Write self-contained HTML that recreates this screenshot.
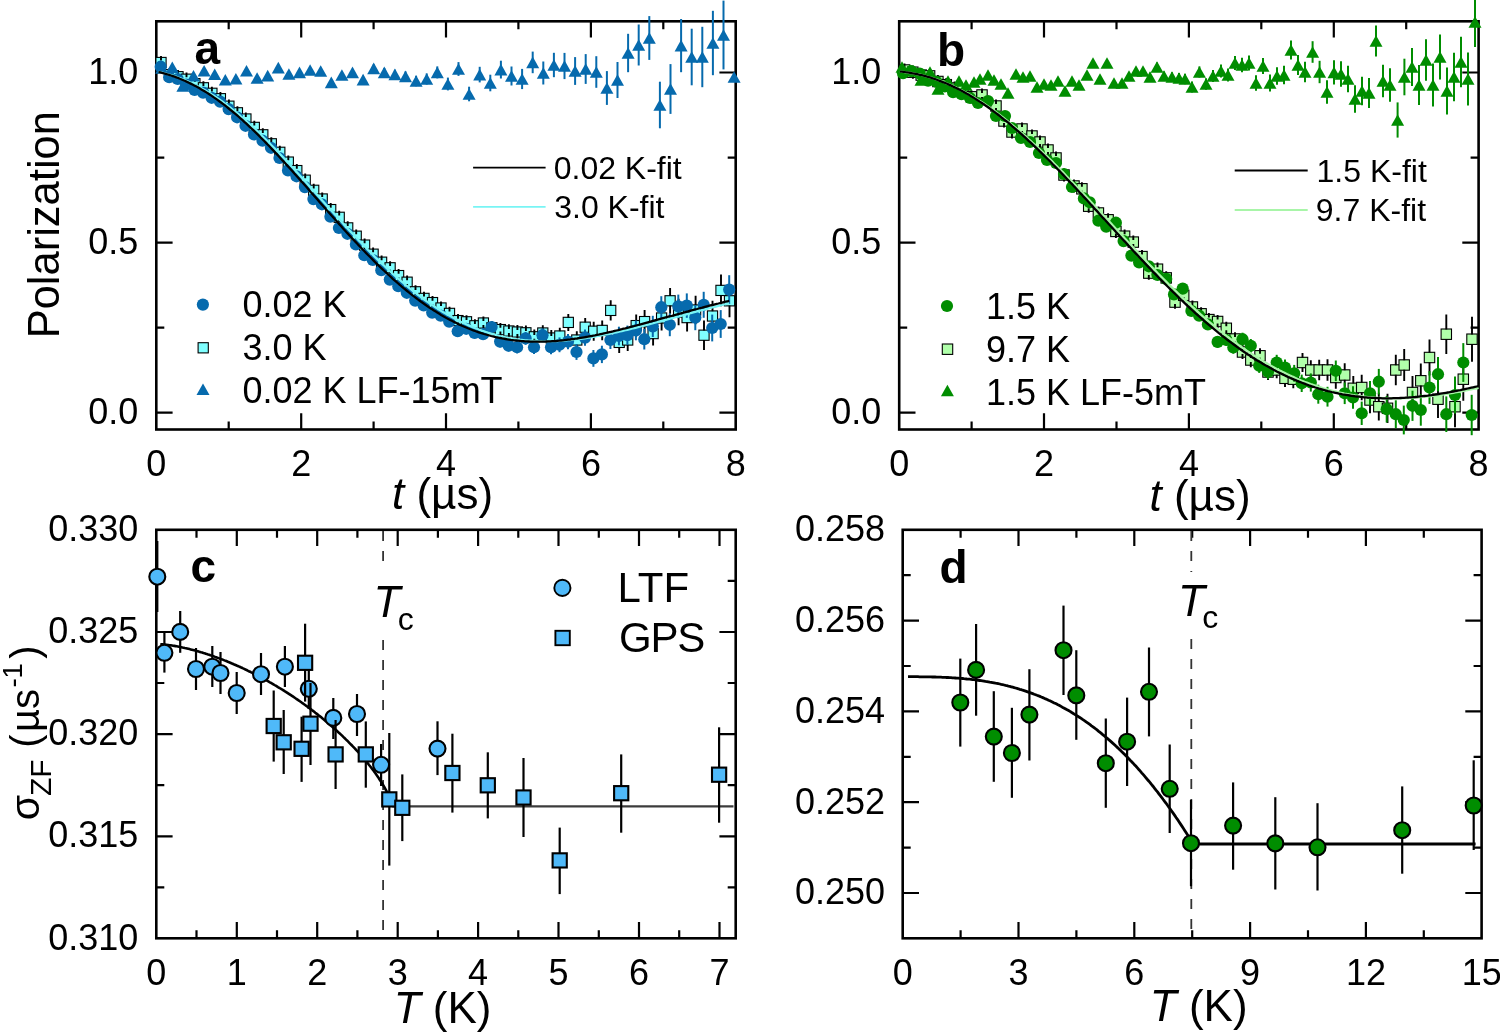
<!DOCTYPE html>
<html><head><meta charset="utf-8"><style>html,body{margin:0;padding:0;background:#fff;}svg{display:block;will-change:transform;}</style></head><body>
<svg width="1500" height="1032" viewBox="0 0 1500 1032" font-family="'Liberation Sans', sans-serif">
<rect width="1500" height="1032" fill="#fff"/>
<rect x="156.3" y="21.3" width="579.4000000000001" height="408.2" fill="none" stroke="#000" stroke-width="2.6"/>
<path d="M301.2 429.5V413.2M301.2 21.3V37.6M446.0 429.5V413.2M446.0 21.3V37.6M590.9 429.5V413.2M590.9 21.3V37.6M228.7 429.5V421.5M228.7 21.3V29.3M373.6 429.5V421.5M373.6 21.3V29.3M518.4 429.5V421.5M518.4 21.3V29.3M663.3 429.5V421.5M663.3 21.3V29.3M156.3 412.7H172.60000000000002M735.7 412.7H719.4000000000001M156.3 242.6H172.60000000000002M735.7 242.6H719.4000000000001M156.3 72.5H172.60000000000002M735.7 72.5H719.4000000000001M156.3 327.6H164.3M735.7 327.6H727.7M156.3 157.6H164.3M735.7 157.6H727.7" stroke="#000" stroke-width="2.2" fill="none"/>
<rect x="899.2" y="21.3" width="579.3999999999999" height="408.2" fill="none" stroke="#000" stroke-width="2.6"/>
<path d="M1044.0 429.5V413.2M1044.0 21.3V37.6M1188.9 429.5V413.2M1188.9 21.3V37.6M1333.8 429.5V413.2M1333.8 21.3V37.6M971.6 429.5V421.5M971.6 21.3V29.3M1116.5 429.5V421.5M1116.5 21.3V29.3M1261.3 429.5V421.5M1261.3 21.3V29.3M1406.2 429.5V421.5M1406.2 21.3V29.3M899.2 412.7H915.5M1478.6 412.7H1462.3M899.2 242.6H915.5M1478.6 242.6H1462.3M899.2 72.5H915.5M1478.6 72.5H1462.3M899.2 327.6H907.2M1478.6 327.6H1470.6M899.2 157.6H907.2M1478.6 157.6H1470.6" stroke="#000" stroke-width="2.2" fill="none"/>
<rect x="156.3" y="529.8" width="579.4000000000001" height="408.5" fill="none" stroke="#000" stroke-width="2.6"/>
<path d="M236.8 938.3V922.0M236.8 529.8V546.0999999999999M317.2 938.3V922.0M317.2 529.8V546.0999999999999M397.7 938.3V922.0M397.7 529.8V546.0999999999999M478.1 938.3V922.0M478.1 529.8V546.0999999999999M558.5 938.3V922.0M558.5 529.8V546.0999999999999M639.0 938.3V922.0M639.0 529.8V546.0999999999999M719.5 938.3V922.0M719.5 529.8V546.0999999999999M196.5 938.3V930.3M196.5 529.8V537.8M277.0 938.3V930.3M277.0 529.8V537.8M357.4 938.3V930.3M357.4 529.8V537.8M437.9 938.3V930.3M437.9 529.8V537.8M518.3 938.3V930.3M518.3 529.8V537.8M598.8 938.3V930.3M598.8 529.8V537.8M679.2 938.3V930.3M679.2 529.8V537.8M156.3 836.3H172.60000000000002M735.7 836.3H719.4000000000001M156.3 734.1H172.60000000000002M735.7 734.1H719.4000000000001M156.3 632.0H172.60000000000002M735.7 632.0H719.4000000000001M156.3 887.3H164.3M735.7 887.3H727.7M156.3 785.2H164.3M735.7 785.2H727.7M156.3 683.0H164.3M735.7 683.0H727.7M156.3 580.9H164.3M735.7 580.9H727.7" stroke="#000" stroke-width="2.2" fill="none"/>
<rect x="902.7" y="529.8" width="578.8999999999999" height="408.5" fill="none" stroke="#000" stroke-width="2.6"/>
<path d="M1018.5 938.3V922.0M1018.5 529.8V546.0999999999999M1134.3 938.3V922.0M1134.3 529.8V546.0999999999999M1250.1 938.3V922.0M1250.1 529.8V546.0999999999999M1365.9 938.3V922.0M1365.9 529.8V546.0999999999999M960.6 938.3V930.3M960.6 529.8V537.8M1076.4 938.3V930.3M1076.4 529.8V537.8M1192.2 938.3V930.3M1192.2 529.8V537.8M1308.0 938.3V930.3M1308.0 529.8V537.8M1423.8 938.3V930.3M1423.8 529.8V537.8M902.7 893.0H919.0M1481.6 893.0H1465.3M902.7 802.2H919.0M1481.6 802.2H1465.3M902.7 711.4H919.0M1481.6 711.4H1465.3M902.7 620.6H919.0M1481.6 620.6H1465.3M902.7 847.6H910.7M1481.6 847.6H1473.6M902.7 756.8H910.7M1481.6 756.8H1473.6M902.7 666.0H910.7M1481.6 666.0H1473.6M902.7 575.2H910.7M1481.6 575.2H1473.6" stroke="#000" stroke-width="2.2" fill="none"/>
<rect x="155.9" y="57.4" width="10.2" height="10.2" fill="#80ffff" stroke="#000" stroke-width="1.1"/>
<path d="M161.0 55.9V60.6M161.0 64.4V69.1" stroke="#000" stroke-width="1.9"/>
<rect x="164.4" y="69.6" width="10.2" height="10.2" fill="#80ffff" stroke="#000" stroke-width="1.1"/>
<path d="M169.5 68.1V72.8M169.5 76.6V81.3" stroke="#000" stroke-width="1.9"/>
<rect x="172.9" y="71.6" width="10.2" height="10.2" fill="#80ffff" stroke="#000" stroke-width="1.1"/>
<path d="M178.0 70.1V74.8M178.0 78.6V83.3" stroke="#000" stroke-width="1.9"/>
<rect x="181.4" y="74.1" width="10.2" height="10.2" fill="#80ffff" stroke="#000" stroke-width="1.1"/>
<path d="M186.5 72.6V77.3M186.5 81.1V85.8" stroke="#000" stroke-width="1.9"/>
<rect x="189.8" y="78.6" width="10.2" height="10.2" fill="#80ffff" stroke="#000" stroke-width="1.1"/>
<path d="M194.9 77.1V81.8M194.9 85.6V90.3" stroke="#000" stroke-width="1.9"/>
<rect x="198.3" y="82.7" width="10.2" height="10.2" fill="#80ffff" stroke="#000" stroke-width="1.1"/>
<path d="M203.4 81.2V85.9M203.4 89.7V94.4" stroke="#000" stroke-width="1.9"/>
<rect x="206.8" y="88.2" width="10.2" height="10.2" fill="#80ffff" stroke="#000" stroke-width="1.1"/>
<path d="M211.9 86.7V91.4M211.9 95.2V99.9" stroke="#000" stroke-width="1.9"/>
<rect x="215.3" y="93.6" width="10.2" height="10.2" fill="#80ffff" stroke="#000" stroke-width="1.1"/>
<path d="M220.4 92.1V96.8M220.4 100.6V105.3" stroke="#000" stroke-width="1.9"/>
<rect x="223.8" y="101.1" width="10.2" height="10.2" fill="#80ffff" stroke="#000" stroke-width="1.1"/>
<path d="M228.9 99.6V104.3M228.9 108.1V112.8" stroke="#000" stroke-width="1.9"/>
<rect x="232.3" y="107.7" width="10.2" height="10.2" fill="#80ffff" stroke="#000" stroke-width="1.1"/>
<path d="M237.4 106.2V110.9M237.4 114.7V119.4" stroke="#000" stroke-width="1.9"/>
<rect x="240.8" y="113.9" width="10.2" height="10.2" fill="#80ffff" stroke="#000" stroke-width="1.1"/>
<path d="M245.8 112.4V117.1M245.8 120.9V125.6" stroke="#000" stroke-width="1.9"/>
<rect x="249.2" y="122.3" width="10.2" height="10.2" fill="#80ffff" stroke="#000" stroke-width="1.1"/>
<path d="M254.3 120.8V125.5M254.3 129.3V134.0" stroke="#000" stroke-width="1.9"/>
<rect x="257.7" y="129.7" width="10.2" height="10.2" fill="#80ffff" stroke="#000" stroke-width="1.1"/>
<path d="M262.8 128.2V132.9M262.8 136.7V141.4" stroke="#000" stroke-width="1.9"/>
<rect x="266.2" y="138.7" width="10.2" height="10.2" fill="#80ffff" stroke="#000" stroke-width="1.1"/>
<path d="M271.3 137.2V141.9M271.3 145.7V150.4" stroke="#000" stroke-width="1.9"/>
<rect x="274.7" y="147.2" width="10.2" height="10.2" fill="#80ffff" stroke="#000" stroke-width="1.1"/>
<path d="M279.8 145.7V150.4M279.8 154.2V158.9" stroke="#000" stroke-width="1.9"/>
<rect x="283.2" y="157.0" width="10.2" height="10.2" fill="#80ffff" stroke="#000" stroke-width="1.1"/>
<path d="M288.3 155.5V160.2M288.3 164.0V168.7" stroke="#000" stroke-width="1.9"/>
<rect x="291.7" y="165.5" width="10.2" height="10.2" fill="#80ffff" stroke="#000" stroke-width="1.1"/>
<path d="M296.8 164.0V168.7M296.8 172.5V177.2" stroke="#000" stroke-width="1.9"/>
<rect x="300.1" y="175.1" width="10.2" height="10.2" fill="#80ffff" stroke="#000" stroke-width="1.1"/>
<path d="M305.2 173.6V178.3M305.2 182.1V186.8" stroke="#000" stroke-width="1.9"/>
<rect x="308.6" y="185.2" width="10.2" height="10.2" fill="#80ffff" stroke="#000" stroke-width="1.1"/>
<path d="M313.7 183.7V188.4M313.7 192.2V196.9" stroke="#000" stroke-width="1.9"/>
<rect x="317.1" y="193.9" width="10.2" height="10.2" fill="#80ffff" stroke="#000" stroke-width="1.1"/>
<path d="M322.2 192.4V197.1M322.2 200.9V205.6" stroke="#000" stroke-width="1.9"/>
<rect x="325.6" y="204.5" width="10.2" height="10.2" fill="#80ffff" stroke="#000" stroke-width="1.1"/>
<path d="M330.7 203.0V207.7M330.7 211.5V216.2" stroke="#000" stroke-width="1.9"/>
<rect x="334.1" y="212.2" width="10.2" height="10.2" fill="#80ffff" stroke="#000" stroke-width="1.1"/>
<path d="M339.2 210.7V215.4M339.2 219.2V223.9" stroke="#000" stroke-width="1.9"/>
<rect x="342.6" y="222.8" width="10.2" height="10.2" fill="#80ffff" stroke="#000" stroke-width="1.1"/>
<path d="M347.7 221.3V226.0M347.7 229.8V234.5" stroke="#000" stroke-width="1.9"/>
<rect x="351.1" y="231.1" width="10.2" height="10.2" fill="#80ffff" stroke="#000" stroke-width="1.1"/>
<path d="M356.2 229.6V234.3M356.2 238.1V242.8" stroke="#000" stroke-width="1.9"/>
<rect x="359.5" y="240.0" width="10.2" height="10.2" fill="#80ffff" stroke="#000" stroke-width="1.1"/>
<path d="M364.6 238.5V243.2M364.6 247.0V251.7" stroke="#000" stroke-width="1.9"/>
<rect x="368.0" y="249.1" width="10.2" height="10.2" fill="#80ffff" stroke="#000" stroke-width="1.1"/>
<path d="M373.1 247.6V252.3M373.1 256.1V260.8" stroke="#000" stroke-width="1.9"/>
<rect x="376.5" y="257.1" width="10.2" height="10.2" fill="#80ffff" stroke="#000" stroke-width="1.1"/>
<path d="M381.6 255.6V260.3M381.6 264.1V268.8" stroke="#000" stroke-width="1.9"/>
<rect x="385.0" y="262.7" width="10.2" height="10.2" fill="#80ffff" stroke="#000" stroke-width="1.1"/>
<path d="M390.1 261.2V265.9M390.1 269.7V274.4" stroke="#000" stroke-width="1.9"/>
<rect x="393.5" y="270.5" width="10.2" height="10.2" fill="#80ffff" stroke="#000" stroke-width="1.1"/>
<path d="M398.6 269.0V273.7M398.6 277.5V282.2" stroke="#000" stroke-width="1.9"/>
<rect x="402.0" y="277.1" width="10.2" height="10.2" fill="#80ffff" stroke="#000" stroke-width="1.1"/>
<path d="M407.1 275.6V280.3M407.1 284.1V288.8" stroke="#000" stroke-width="1.9"/>
<rect x="410.4" y="286.7" width="10.2" height="10.2" fill="#80ffff" stroke="#000" stroke-width="1.1"/>
<path d="M415.5 285.2V289.9M415.5 293.7V298.4" stroke="#000" stroke-width="1.9"/>
<rect x="418.9" y="293.3" width="10.2" height="10.2" fill="#80ffff" stroke="#000" stroke-width="1.1"/>
<path d="M424.0 291.8V296.5M424.0 300.3V305.0" stroke="#000" stroke-width="1.9"/>
<rect x="427.4" y="297.5" width="10.2" height="10.2" fill="#80ffff" stroke="#000" stroke-width="1.1"/>
<path d="M432.5 296.0V300.7M432.5 304.5V309.2" stroke="#000" stroke-width="1.9"/>
<rect x="435.9" y="302.9" width="10.2" height="10.2" fill="#80ffff" stroke="#000" stroke-width="1.1"/>
<path d="M441.0 301.4V306.1M441.0 309.9V314.6" stroke="#000" stroke-width="1.9"/>
<rect x="444.4" y="308.3" width="10.2" height="10.2" fill="#80ffff" stroke="#000" stroke-width="1.1"/>
<path d="M449.5 306.8V311.5M449.5 315.3V320.0" stroke="#000" stroke-width="1.9"/>
<rect x="452.9" y="315.5" width="10.2" height="10.2" fill="#80ffff" stroke="#000" stroke-width="1.1"/>
<path d="M458.0 314.0V318.7M458.0 322.5V327.2" stroke="#000" stroke-width="1.9"/>
<rect x="461.4" y="316.7" width="10.2" height="10.2" fill="#80ffff" stroke="#000" stroke-width="1.1"/>
<path d="M466.5 315.2V319.9M466.5 323.7V328.4" stroke="#000" stroke-width="1.9"/>
<rect x="469.8" y="320.7" width="10.2" height="10.2" fill="#80ffff" stroke="#000" stroke-width="1.1"/>
<path d="M474.9 319.2V323.9M474.9 327.7V332.4" stroke="#000" stroke-width="1.9"/>
<rect x="478.3" y="317.9" width="10.2" height="10.2" fill="#80ffff" stroke="#000" stroke-width="1.1"/>
<path d="M483.4 316.4V321.1M483.4 324.9V329.6" stroke="#000" stroke-width="1.9"/>
<rect x="486.8" y="322.7" width="10.2" height="10.2" fill="#80ffff" stroke="#000" stroke-width="1.1"/>
<path d="M491.9 321.2V325.9M491.9 329.7V334.4" stroke="#000" stroke-width="1.9"/>
<rect x="495.3" y="324.5" width="10.2" height="10.2" fill="#80ffff" stroke="#000" stroke-width="1.1"/>
<path d="M500.4 323.0V327.7M500.4 331.5V336.2" stroke="#000" stroke-width="1.9"/>
<rect x="503.8" y="325.9" width="10.2" height="10.2" fill="#80ffff" stroke="#000" stroke-width="1.1"/>
<path d="M508.9 324.3V329.1M508.9 332.9V337.7" stroke="#000" stroke-width="1.9"/>
<rect x="512.3" y="326.9" width="10.2" height="10.2" fill="#80ffff" stroke="#000" stroke-width="1.1"/>
<path d="M517.4 325.1V330.1M517.4 333.9V338.9" stroke="#000" stroke-width="1.9"/>
<rect x="520.8" y="327.7" width="10.2" height="10.2" fill="#80ffff" stroke="#000" stroke-width="1.1"/>
<path d="M525.9 325.6V330.9M525.9 334.7V340.0" stroke="#000" stroke-width="1.9"/>
<rect x="529.2" y="331.7" width="10.2" height="10.2" fill="#80ffff" stroke="#000" stroke-width="1.1"/>
<path d="M534.3 329.4V334.9M534.3 338.7V344.2" stroke="#000" stroke-width="1.9"/>
<rect x="537.7" y="327.9" width="10.2" height="10.2" fill="#80ffff" stroke="#000" stroke-width="1.1"/>
<path d="M542.8 325.3V331.1M542.8 334.9V340.7" stroke="#000" stroke-width="1.9"/>
<rect x="546.2" y="332.9" width="10.2" height="10.2" fill="#80ffff" stroke="#000" stroke-width="1.1"/>
<path d="M551.3 330.0V336.1M551.3 339.9V346.0" stroke="#000" stroke-width="1.9"/>
<rect x="554.7" y="330.9" width="10.2" height="10.2" fill="#80ffff" stroke="#000" stroke-width="1.1"/>
<path d="M559.8 327.8V331.3M559.8 340.7V344.2" stroke="#000" stroke-width="1.9"/>
<rect x="563.2" y="317.3" width="10.2" height="10.2" fill="#80ffff" stroke="#000" stroke-width="1.1"/>
<path d="M568.3 313.9V317.7M568.3 327.1V330.9" stroke="#000" stroke-width="1.9"/>
<rect x="571.7" y="334.9" width="10.2" height="10.2" fill="#80ffff" stroke="#000" stroke-width="1.1"/>
<path d="M576.8 331.2V335.3M576.8 344.7V348.8" stroke="#000" stroke-width="1.9"/>
<rect x="580.1" y="322.1" width="10.2" height="10.2" fill="#80ffff" stroke="#000" stroke-width="1.1"/>
<path d="M585.2 318.1V322.5M585.2 331.9V336.3" stroke="#000" stroke-width="1.9"/>
<rect x="588.6" y="326.1" width="10.2" height="10.2" fill="#80ffff" stroke="#000" stroke-width="1.1"/>
<path d="M593.7 321.7V326.5M593.7 335.9V340.7" stroke="#000" stroke-width="1.9"/>
<rect x="597.1" y="325.3" width="10.2" height="10.2" fill="#80ffff" stroke="#000" stroke-width="1.1"/>
<path d="M602.2 320.6V325.7M602.2 335.1V340.2" stroke="#000" stroke-width="1.9"/>
<rect x="605.6" y="305.3" width="10.2" height="10.2" fill="#80ffff" stroke="#000" stroke-width="1.1"/>
<path d="M610.7 300.3V305.7M610.7 315.1V320.5" stroke="#000" stroke-width="1.9"/>
<rect x="614.1" y="337.3" width="10.2" height="10.2" fill="#80ffff" stroke="#000" stroke-width="1.1"/>
<path d="M619.2 331.9V337.7M619.2 347.1V352.9" stroke="#000" stroke-width="1.9"/>
<rect x="622.6" y="334.9" width="10.2" height="10.2" fill="#80ffff" stroke="#000" stroke-width="1.1"/>
<path d="M627.7 329.1V335.3M627.7 344.7V350.9" stroke="#000" stroke-width="1.9"/>
<rect x="631.1" y="320.5" width="10.2" height="10.2" fill="#80ffff" stroke="#000" stroke-width="1.1"/>
<path d="M636.2 314.4V320.9M636.2 330.3V336.8" stroke="#000" stroke-width="1.9"/>
<rect x="639.5" y="316.5" width="10.2" height="10.2" fill="#80ffff" stroke="#000" stroke-width="1.1"/>
<path d="M644.6 310.0V316.9M644.6 326.3V333.2" stroke="#000" stroke-width="1.9"/>
<rect x="648.0" y="328.5" width="10.2" height="10.2" fill="#80ffff" stroke="#000" stroke-width="1.1"/>
<path d="M653.1 321.6V328.9M653.1 338.3V345.6" stroke="#000" stroke-width="1.9"/>
<rect x="656.5" y="312.9" width="10.2" height="10.2" fill="#80ffff" stroke="#000" stroke-width="1.1"/>
<path d="M661.6 305.5V313.3M661.6 322.7V330.5" stroke="#000" stroke-width="1.9"/>
<rect x="665.0" y="295.7" width="10.2" height="10.2" fill="#80ffff" stroke="#000" stroke-width="1.1"/>
<path d="M670.1 287.9V296.1M670.1 305.5V313.7" stroke="#000" stroke-width="1.9"/>
<rect x="673.5" y="306.9" width="10.2" height="10.2" fill="#80ffff" stroke="#000" stroke-width="1.1"/>
<path d="M678.6 298.7V307.3M678.6 316.7V325.3" stroke="#000" stroke-width="1.9"/>
<rect x="682.0" y="312.5" width="10.2" height="10.2" fill="#80ffff" stroke="#000" stroke-width="1.1"/>
<path d="M687.1 303.8V312.9M687.1 322.3V331.4" stroke="#000" stroke-width="1.9"/>
<rect x="690.5" y="304.9" width="10.2" height="10.2" fill="#80ffff" stroke="#000" stroke-width="1.1"/>
<path d="M695.6 295.7V305.3M695.6 314.7V324.3" stroke="#000" stroke-width="1.9"/>
<rect x="698.9" y="330.1" width="10.2" height="10.2" fill="#80ffff" stroke="#000" stroke-width="1.1"/>
<path d="M704.0 320.4V330.5M704.0 339.9V350.0" stroke="#000" stroke-width="1.9"/>
<rect x="707.4" y="310.9" width="10.2" height="10.2" fill="#80ffff" stroke="#000" stroke-width="1.1"/>
<path d="M712.5 300.7V311.3M712.5 320.7V331.3" stroke="#000" stroke-width="1.9"/>
<rect x="715.9" y="285.3" width="10.2" height="10.2" fill="#80ffff" stroke="#000" stroke-width="1.1"/>
<path d="M721.0 274.5V285.7M721.0 295.1V306.3" stroke="#000" stroke-width="1.9"/>
<rect x="724.4" y="295.7" width="10.2" height="10.2" fill="#80ffff" stroke="#000" stroke-width="1.1"/>
<path d="M729.5 284.4V296.1M729.5 305.5V317.2" stroke="#000" stroke-width="1.9"/>
<path d="M160.7 65.2V68.2" stroke="#066aad" stroke-width="2"/>
<path d="M169.2 75.6V78.8" stroke="#066aad" stroke-width="2"/>
<path d="M177.7 77.4V80.7" stroke="#066aad" stroke-width="2"/>
<path d="M186.2 82.9V86.2" stroke="#066aad" stroke-width="2"/>
<path d="M194.6 88.2V91.7" stroke="#066aad" stroke-width="2"/>
<path d="M203.1 90.8V94.4" stroke="#066aad" stroke-width="2"/>
<path d="M211.6 95.9V99.6" stroke="#066aad" stroke-width="2"/>
<path d="M220.1 99.7V103.5" stroke="#066aad" stroke-width="2"/>
<path d="M228.6 107.1V111.1" stroke="#066aad" stroke-width="2"/>
<path d="M237.1 115.3V119.4" stroke="#066aad" stroke-width="2"/>
<path d="M245.5 123.7V127.9" stroke="#066aad" stroke-width="2"/>
<path d="M254.0 132.2V136.6" stroke="#066aad" stroke-width="2"/>
<path d="M262.5 138.4V143.0" stroke="#066aad" stroke-width="2"/>
<path d="M271.0 145.5V150.2" stroke="#066aad" stroke-width="2"/>
<path d="M279.5 155.5V160.4" stroke="#066aad" stroke-width="2"/>
<path d="M288.0 167.8V172.9" stroke="#066aad" stroke-width="2"/>
<path d="M296.5 173.7V178.9" stroke="#066aad" stroke-width="2"/>
<path d="M304.9 184.4V189.8" stroke="#066aad" stroke-width="2"/>
<path d="M313.4 196.4V201.9" stroke="#066aad" stroke-width="2"/>
<path d="M321.9 201.4V207.1" stroke="#066aad" stroke-width="2"/>
<path d="M330.4 213.8V219.7" stroke="#066aad" stroke-width="2"/>
<path d="M338.9 224.9V231.1" stroke="#066aad" stroke-width="2"/>
<path d="M347.4 230.6V236.9" stroke="#066aad" stroke-width="2"/>
<path d="M355.9 241.2V247.8" stroke="#066aad" stroke-width="2"/>
<path d="M364.3 251.8V258.6" stroke="#066aad" stroke-width="2"/>
<path d="M372.8 256.4V263.5" stroke="#066aad" stroke-width="2"/>
<path d="M381.3 266.6V273.8" stroke="#066aad" stroke-width="2"/>
<path d="M389.8 275.8V283.4" stroke="#066aad" stroke-width="2"/>
<path d="M398.3 282.3V290.1" stroke="#066aad" stroke-width="2"/>
<path d="M406.8 288.8V296.8" stroke="#066aad" stroke-width="2"/>
<path d="M415.2 296.4V304.8" stroke="#066aad" stroke-width="2"/>
<path d="M423.7 301.1V309.7" stroke="#066aad" stroke-width="2"/>
<path d="M432.2 308.1V317.1" stroke="#066aad" stroke-width="2"/>
<path d="M440.7 311.0V320.2" stroke="#066aad" stroke-width="2"/>
<path d="M449.2 316.8V326.4" stroke="#066aad" stroke-width="2"/>
<path d="M457.7 326.3V336.1" stroke="#066aad" stroke-width="2"/>
<path d="M466.2 323.7V333.9" stroke="#066aad" stroke-width="2"/>
<path d="M474.6 327.7V338.3" stroke="#066aad" stroke-width="2"/>
<path d="M483.1 328.8V339.6" stroke="#066aad" stroke-width="2"/>
<path d="M491.6 321.4V332.6" stroke="#066aad" stroke-width="2"/>
<path d="M500.1 335.8V347.4" stroke="#066aad" stroke-width="2"/>
<path d="M508.6 339.6V351.6" stroke="#066aad" stroke-width="2"/>
<path d="M517.1 341.0V353.4" stroke="#066aad" stroke-width="2"/>
<path d="M525.6 332.0V344.8" stroke="#066aad" stroke-width="2"/>
<path d="M534.0 340.5V353.9" stroke="#066aad" stroke-width="2"/>
<path d="M542.5 328.3V342.1" stroke="#066aad" stroke-width="2"/>
<path d="M551.0 340.1V354.3" stroke="#066aad" stroke-width="2"/>
<path d="M559.5 337.4V352.2" stroke="#066aad" stroke-width="2"/>
<path d="M568.0 334.0V349.2" stroke="#066aad" stroke-width="2"/>
<path d="M576.5 344.1V359.9" stroke="#066aad" stroke-width="2"/>
<path d="M585.0 329.5V345.7" stroke="#066aad" stroke-width="2"/>
<path d="M593.4 350.0V366.8" stroke="#066aad" stroke-width="2"/>
<path d="M601.9 345.7V363.1" stroke="#066aad" stroke-width="2"/>
<path d="M610.4 331.0V349.0" stroke="#066aad" stroke-width="2"/>
<path d="M618.9 326.7V345.3" stroke="#066aad" stroke-width="2"/>
<path d="M627.4 325.6V344.8" stroke="#066aad" stroke-width="2"/>
<path d="M635.9 320.5V340.3" stroke="#066aad" stroke-width="2"/>
<path d="M644.3 328.9V349.5" stroke="#066aad" stroke-width="2"/>
<path d="M652.8 315.8V337.0" stroke="#066aad" stroke-width="2"/>
<path d="M661.3 296.2V318.2" stroke="#066aad" stroke-width="2"/>
<path d="M669.8 313.4V336.2" stroke="#066aad" stroke-width="2"/>
<path d="M678.3 294.6V318.2" stroke="#066aad" stroke-width="2"/>
<path d="M686.8 293.4V317.8" stroke="#066aad" stroke-width="2"/>
<path d="M695.3 305.0V330.2" stroke="#066aad" stroke-width="2"/>
<path d="M703.7 291.8V317.8" stroke="#066aad" stroke-width="2"/>
<path d="M712.2 314.6V341.4" stroke="#066aad" stroke-width="2"/>
<path d="M720.7 310.1V337.9" stroke="#066aad" stroke-width="2"/>
<path d="M729.2 275.2V304.0" stroke="#066aad" stroke-width="2"/>
<circle cx="160.7" cy="66.7" r="6.1" fill="#066aad"/>
<circle cx="169.2" cy="77.2" r="6.1" fill="#066aad"/>
<circle cx="177.7" cy="79.0" r="6.1" fill="#066aad"/>
<circle cx="186.2" cy="84.5" r="6.1" fill="#066aad"/>
<circle cx="194.6" cy="90.0" r="6.1" fill="#066aad"/>
<circle cx="203.1" cy="92.6" r="6.1" fill="#066aad"/>
<circle cx="211.6" cy="97.8" r="6.1" fill="#066aad"/>
<circle cx="220.1" cy="101.6" r="6.1" fill="#066aad"/>
<circle cx="228.6" cy="109.1" r="6.1" fill="#066aad"/>
<circle cx="237.1" cy="117.3" r="6.1" fill="#066aad"/>
<circle cx="245.5" cy="125.8" r="6.1" fill="#066aad"/>
<circle cx="254.0" cy="134.4" r="6.1" fill="#066aad"/>
<circle cx="262.5" cy="140.7" r="6.1" fill="#066aad"/>
<circle cx="271.0" cy="147.8" r="6.1" fill="#066aad"/>
<circle cx="279.5" cy="158.0" r="6.1" fill="#066aad"/>
<circle cx="288.0" cy="170.4" r="6.1" fill="#066aad"/>
<circle cx="296.5" cy="176.3" r="6.1" fill="#066aad"/>
<circle cx="304.9" cy="187.1" r="6.1" fill="#066aad"/>
<circle cx="313.4" cy="199.1" r="6.1" fill="#066aad"/>
<circle cx="321.9" cy="204.3" r="6.1" fill="#066aad"/>
<circle cx="330.4" cy="216.7" r="6.1" fill="#066aad"/>
<circle cx="338.9" cy="228.0" r="6.1" fill="#066aad"/>
<circle cx="347.4" cy="233.8" r="6.1" fill="#066aad"/>
<circle cx="355.9" cy="244.5" r="6.1" fill="#066aad"/>
<circle cx="364.3" cy="255.2" r="6.1" fill="#066aad"/>
<circle cx="372.8" cy="260.0" r="6.1" fill="#066aad"/>
<circle cx="381.3" cy="270.2" r="6.1" fill="#066aad"/>
<circle cx="389.8" cy="279.6" r="6.1" fill="#066aad"/>
<circle cx="398.3" cy="286.2" r="6.1" fill="#066aad"/>
<circle cx="406.8" cy="292.8" r="6.1" fill="#066aad"/>
<circle cx="415.2" cy="300.6" r="6.1" fill="#066aad"/>
<circle cx="423.7" cy="305.4" r="6.1" fill="#066aad"/>
<circle cx="432.2" cy="312.6" r="6.1" fill="#066aad"/>
<circle cx="440.7" cy="315.6" r="6.1" fill="#066aad"/>
<circle cx="449.2" cy="321.6" r="6.1" fill="#066aad"/>
<circle cx="457.7" cy="331.2" r="6.1" fill="#066aad"/>
<circle cx="466.2" cy="328.8" r="6.1" fill="#066aad"/>
<circle cx="474.6" cy="333.0" r="6.1" fill="#066aad"/>
<circle cx="483.1" cy="334.2" r="6.1" fill="#066aad"/>
<circle cx="491.6" cy="327.0" r="6.1" fill="#066aad"/>
<circle cx="500.1" cy="341.6" r="6.1" fill="#066aad"/>
<circle cx="508.6" cy="345.6" r="6.1" fill="#066aad"/>
<circle cx="517.1" cy="347.2" r="6.1" fill="#066aad"/>
<circle cx="525.6" cy="338.4" r="6.1" fill="#066aad"/>
<circle cx="534.0" cy="347.2" r="6.1" fill="#066aad"/>
<circle cx="542.5" cy="335.2" r="6.1" fill="#066aad"/>
<circle cx="551.0" cy="347.2" r="6.1" fill="#066aad"/>
<circle cx="559.5" cy="344.8" r="6.1" fill="#066aad"/>
<circle cx="568.0" cy="341.6" r="6.1" fill="#066aad"/>
<circle cx="576.5" cy="352.0" r="6.1" fill="#066aad"/>
<circle cx="585.0" cy="337.6" r="6.1" fill="#066aad"/>
<circle cx="593.4" cy="358.4" r="6.1" fill="#066aad"/>
<circle cx="601.9" cy="354.4" r="6.1" fill="#066aad"/>
<circle cx="610.4" cy="340.0" r="6.1" fill="#066aad"/>
<circle cx="618.9" cy="336.0" r="6.1" fill="#066aad"/>
<circle cx="627.4" cy="335.2" r="6.1" fill="#066aad"/>
<circle cx="635.9" cy="330.4" r="6.1" fill="#066aad"/>
<circle cx="644.3" cy="339.2" r="6.1" fill="#066aad"/>
<circle cx="652.8" cy="326.4" r="6.1" fill="#066aad"/>
<circle cx="661.3" cy="307.2" r="6.1" fill="#066aad"/>
<circle cx="669.8" cy="324.8" r="6.1" fill="#066aad"/>
<circle cx="678.3" cy="306.4" r="6.1" fill="#066aad"/>
<circle cx="686.8" cy="305.6" r="6.1" fill="#066aad"/>
<circle cx="695.3" cy="317.6" r="6.1" fill="#066aad"/>
<circle cx="703.7" cy="304.8" r="6.1" fill="#066aad"/>
<circle cx="712.2" cy="328.0" r="6.1" fill="#066aad"/>
<circle cx="720.7" cy="324.0" r="6.1" fill="#066aad"/>
<circle cx="729.2" cy="289.6" r="6.1" fill="#066aad"/>
<path d="M161.7 66.9V69.1" stroke="#066aad" stroke-width="2"/>
<path d="M172.3 66.1V68.5" stroke="#066aad" stroke-width="2"/>
<path d="M182.9 84.7V87.3" stroke="#066aad" stroke-width="2"/>
<path d="M193.5 74.3V77.1" stroke="#066aad" stroke-width="2"/>
<path d="M204.1 69.2V72.2" stroke="#066aad" stroke-width="2"/>
<path d="M214.7 72.7V75.9" stroke="#066aad" stroke-width="2"/>
<path d="M225.3 78.0V81.4" stroke="#066aad" stroke-width="2"/>
<path d="M235.9 76.9V80.5" stroke="#066aad" stroke-width="2"/>
<path d="M246.5 68.8V72.6" stroke="#066aad" stroke-width="2"/>
<path d="M257.1 76.0V80.0" stroke="#066aad" stroke-width="2"/>
<path d="M267.7 73.5V77.7" stroke="#066aad" stroke-width="2"/>
<path d="M278.3 65.3V69.9" stroke="#066aad" stroke-width="2"/>
<path d="M288.9 71.6V76.4" stroke="#066aad" stroke-width="2"/>
<path d="M299.5 69.8V75.0" stroke="#066aad" stroke-width="2"/>
<path d="M310.1 67.2V72.8" stroke="#066aad" stroke-width="2"/>
<path d="M320.7 68.0V74.0" stroke="#066aad" stroke-width="2"/>
<path d="M331.3 79.2V85.6" stroke="#066aad" stroke-width="2"/>
<path d="M341.9 71.6V78.4" stroke="#066aad" stroke-width="2"/>
<path d="M352.5 68.8V76.0" stroke="#066aad" stroke-width="2"/>
<path d="M363.1 75.8V83.4" stroke="#066aad" stroke-width="2"/>
<path d="M373.7 64.3V72.5" stroke="#066aad" stroke-width="2"/>
<path d="M384.3 68.0V76.8" stroke="#066aad" stroke-width="2"/>
<path d="M394.9 69.7V79.1" stroke="#066aad" stroke-width="2"/>
<path d="M405.5 71.4V81.4" stroke="#066aad" stroke-width="2"/>
<path d="M416.1 75.7V86.3" stroke="#066aad" stroke-width="2"/>
<path d="M426.7 73.4V84.6" stroke="#066aad" stroke-width="2"/>
<path d="M437.3 66.4V78.4" stroke="#066aad" stroke-width="2"/>
<path d="M447.9 77.6V90.4" stroke="#066aad" stroke-width="2"/>
<path d="M458.5 62.1V75.9" stroke="#066aad" stroke-width="2"/>
<path d="M469.1 86.7V101.3" stroke="#066aad" stroke-width="2"/>
<path d="M479.7 66.8V82.4" stroke="#066aad" stroke-width="2"/>
<path d="M490.3 74.7V91.3" stroke="#066aad" stroke-width="2"/>
<path d="M500.9 60.7V78.5" stroke="#066aad" stroke-width="2"/>
<path d="M511.5 66.5V85.5" stroke="#066aad" stroke-width="2"/>
<path d="M522.1 68.9V89.1" stroke="#066aad" stroke-width="2"/>
<path d="M532.7 51.6V73.2" stroke="#066aad" stroke-width="2"/>
<path d="M543.3 61.5V84.5" stroke="#066aad" stroke-width="2"/>
<path d="M553.9 52.8V77.2" stroke="#066aad" stroke-width="2"/>
<path d="M564.5 52.9V79.1" stroke="#066aad" stroke-width="2"/>
<path d="M575.1 57.1V84.9" stroke="#066aad" stroke-width="2"/>
<path d="M585.7 54.1V83.9" stroke="#066aad" stroke-width="2"/>
<path d="M596.3 56.2V87.8" stroke="#066aad" stroke-width="2"/>
<path d="M606.9 71.1V104.9" stroke="#066aad" stroke-width="2"/>
<path d="M617.5 62.0V98.0" stroke="#066aad" stroke-width="2"/>
<path d="M628.1 33.8V72.2" stroke="#066aad" stroke-width="2"/>
<path d="M638.7 24.5V65.5" stroke="#066aad" stroke-width="2"/>
<path d="M649.3 16.1V59.9" stroke="#066aad" stroke-width="2"/>
<path d="M659.9 81.7V128.3" stroke="#066aad" stroke-width="2"/>
<path d="M670.5 64.1V113.9" stroke="#066aad" stroke-width="2"/>
<path d="M681.1 19.0V72.2" stroke="#066aad" stroke-width="2"/>
<path d="M691.7 28.7V85.3" stroke="#066aad" stroke-width="2"/>
<path d="M702.3 26.8V87.2" stroke="#066aad" stroke-width="2"/>
<path d="M712.9 10.8V75.2" stroke="#066aad" stroke-width="2"/>
<path d="M723.5 0.6V69.4" stroke="#066aad" stroke-width="2"/>
<path d="M161.7 62.2L168.2 73.8L155.2 73.8Z" fill="#066aad"/>
<path d="M172.3 61.5L178.8 73.1L165.8 73.1Z" fill="#066aad"/>
<path d="M182.9 80.2L189.4 91.8L176.4 91.8Z" fill="#066aad"/>
<path d="M193.5 69.9L200.0 81.5L187.0 81.5Z" fill="#066aad"/>
<path d="M204.1 64.9L210.6 76.5L197.6 76.5Z" fill="#066aad"/>
<path d="M214.7 68.5L221.2 80.1L208.2 80.1Z" fill="#066aad"/>
<path d="M225.3 73.9L231.8 85.5L218.8 85.5Z" fill="#066aad"/>
<path d="M235.9 72.9L242.4 84.5L229.4 84.5Z" fill="#066aad"/>
<path d="M246.5 64.9L253.0 76.5L240.0 76.5Z" fill="#066aad"/>
<path d="M257.1 72.2L263.6 83.8L250.6 83.8Z" fill="#066aad"/>
<path d="M267.7 69.8L274.2 81.4L261.2 81.4Z" fill="#066aad"/>
<path d="M278.3 61.8L284.8 73.4L271.8 73.4Z" fill="#066aad"/>
<path d="M288.9 68.2L295.4 79.8L282.4 79.8Z" fill="#066aad"/>
<path d="M299.5 66.6L306.0 78.2L293.0 78.2Z" fill="#066aad"/>
<path d="M310.1 64.2L316.6 75.8L303.6 75.8Z" fill="#066aad"/>
<path d="M320.7 65.2L327.2 76.8L314.2 76.8Z" fill="#066aad"/>
<path d="M331.3 76.6L337.8 88.2L324.8 88.2Z" fill="#066aad"/>
<path d="M341.9 69.2L348.4 80.8L335.4 80.8Z" fill="#066aad"/>
<path d="M352.5 66.6L359.0 78.2L346.0 78.2Z" fill="#066aad"/>
<path d="M363.1 73.8L369.6 85.4L356.6 85.4Z" fill="#066aad"/>
<path d="M373.7 62.6L380.2 74.2L367.2 74.2Z" fill="#066aad"/>
<path d="M384.3 66.6L390.8 78.2L377.8 78.2Z" fill="#066aad"/>
<path d="M394.9 68.6L401.4 80.2L388.4 80.2Z" fill="#066aad"/>
<path d="M405.5 70.6L412.0 82.2L399.0 82.2Z" fill="#066aad"/>
<path d="M416.1 75.2L422.6 86.8L409.6 86.8Z" fill="#066aad"/>
<path d="M426.7 73.2L433.2 84.8L420.2 84.8Z" fill="#066aad"/>
<path d="M437.3 66.6L443.8 78.2L430.8 78.2Z" fill="#066aad"/>
<path d="M447.9 78.2L454.4 89.8L441.4 89.8Z" fill="#066aad"/>
<path d="M458.5 63.2L465.0 74.8L452.0 74.8Z" fill="#066aad"/>
<path d="M469.1 88.2L475.6 99.8L462.6 99.8Z" fill="#066aad"/>
<path d="M479.7 68.8L486.2 80.4L473.2 80.4Z" fill="#066aad"/>
<path d="M490.3 77.2L496.8 88.8L483.8 88.8Z" fill="#066aad"/>
<path d="M500.9 63.8L507.4 75.4L494.4 75.4Z" fill="#066aad"/>
<path d="M511.5 70.2L518.0 81.8L505.0 81.8Z" fill="#066aad"/>
<path d="M522.1 73.2L528.6 84.8L515.6 84.8Z" fill="#066aad"/>
<path d="M532.7 56.6L539.2 68.2L526.2 68.2Z" fill="#066aad"/>
<path d="M543.3 67.2L549.8 78.8L536.8 78.8Z" fill="#066aad"/>
<path d="M553.9 59.2L560.4 70.8L547.4 70.8Z" fill="#066aad"/>
<path d="M564.5 60.2L571.0 71.8L558.0 71.8Z" fill="#066aad"/>
<path d="M575.1 65.2L581.6 76.8L568.6 76.8Z" fill="#066aad"/>
<path d="M585.7 63.2L592.2 74.8L579.2 74.8Z" fill="#066aad"/>
<path d="M596.3 66.2L602.8 77.8L589.8 77.8Z" fill="#066aad"/>
<path d="M606.9 82.2L613.4 93.8L600.4 93.8Z" fill="#066aad"/>
<path d="M617.5 74.2L624.0 85.8L611.0 85.8Z" fill="#066aad"/>
<path d="M628.1 47.2L634.6 58.8L621.6 58.8Z" fill="#066aad"/>
<path d="M638.7 39.2L645.2 50.8L632.2 50.8Z" fill="#066aad"/>
<path d="M649.3 32.2L655.8 43.8L642.8 43.8Z" fill="#066aad"/>
<path d="M659.9 99.2L666.4 110.8L653.4 110.8Z" fill="#066aad"/>
<path d="M670.5 83.2L677.0 94.8L664.0 94.8Z" fill="#066aad"/>
<path d="M681.1 39.8L687.6 51.4L674.6 51.4Z" fill="#066aad"/>
<path d="M691.7 51.2L698.2 62.8L685.2 62.8Z" fill="#066aad"/>
<path d="M702.3 51.2L708.8 62.8L695.8 62.8Z" fill="#066aad"/>
<path d="M712.9 37.2L719.4 48.8L706.4 48.8Z" fill="#066aad"/>
<path d="M723.5 29.2L730.0 40.8L717.0 40.8Z" fill="#066aad"/>
<path d="M734.1 71.2L740.6 82.8L727.6 82.8Z" fill="#066aad"/>
<polyline points="158.5,71.9 160.3,72.3 162.1,72.7 163.8,73.1 165.6,73.6 167.4,74.1 169.2,74.6 171.0,75.1 172.8,75.6 174.6,76.2 176.4,76.8 178.2,77.5 179.9,78.1 181.7,78.8 183.5,79.5 185.3,80.3 187.1,81.1 188.9,81.9 190.7,82.7 192.5,83.5 194.3,84.4 196.0,85.3 197.8,86.2 199.6,87.2 201.4,88.2 203.2,89.2 205.0,90.2 206.8,91.3 208.6,92.4 210.4,93.5 212.1,94.7 213.9,95.8 215.7,97.0 217.5,98.2 219.3,99.5 221.1,100.8 222.9,102.0 224.7,103.4 226.5,104.7 228.2,106.1 230.0,107.5 231.8,108.9 233.6,110.3 235.4,111.8 237.2,113.2 239.0,114.7 240.8,116.3 242.6,117.8 244.3,119.4 246.1,120.9 247.9,122.5 249.7,124.2 251.5,125.8 253.3,127.5 255.1,129.1 256.9,130.8 258.7,132.5 260.4,134.3 262.2,136.0 264.0,137.8 265.8,139.5 267.6,141.3 269.4,143.1 271.2,145.0 273.0,146.8 274.8,148.6 276.6,150.5 278.3,152.3 280.1,154.2 281.9,156.1 283.7,158.0 285.5,159.9 287.3,161.8 289.1,163.8 290.9,165.7 292.7,167.6 294.4,169.6 296.2,171.6 298.0,173.5 299.8,175.5 301.6,177.5 303.4,179.4 305.2,181.4 307.0,183.4 308.8,185.4 310.5,187.4 312.3,189.4 314.1,191.4 315.9,193.4 317.7,195.4 319.5,197.4 321.3,199.4 323.1,201.4 324.9,203.4 326.6,205.4 328.4,207.4 330.2,209.3 332.0,211.3 333.8,213.3 335.6,215.3 337.4,217.3 339.2,219.2 341.0,221.2 342.7,223.1 344.5,225.1 346.3,227.0 348.1,229.0 349.9,230.9 351.7,232.8 353.5,234.7 355.3,236.6 357.1,238.5 358.8,240.4 360.6,242.3 362.4,244.1 364.2,246.0 366.0,247.8 367.8,249.7 369.6,251.5 371.4,253.3 373.2,255.1 374.9,256.9 376.7,258.6 378.5,260.4 380.3,262.1 382.1,263.8 383.9,265.5 385.7,267.2 387.5,268.9 389.3,270.6 391.1,272.2 392.8,273.8 394.6,275.4 396.4,277.0 398.2,278.6 400.0,280.2 401.8,281.7 403.6,283.2 405.4,284.8 407.2,286.2 408.9,287.7 410.7,289.2 412.5,290.6 414.3,292.0 416.1,293.4 417.9,294.8 419.7,296.1 421.5,297.5 423.3,298.8 425.0,300.1 426.8,301.4 428.6,302.6 430.4,303.9 432.2,305.1 434.0,306.3 435.8,307.5 437.6,308.6 439.4,309.8 441.1,310.9 442.9,312.0 444.7,313.0 446.5,314.1 448.3,315.1 450.1,316.1 451.9,317.1 453.7,318.1 455.5,319.1 457.2,320.0 459.0,320.9 460.8,321.8 462.6,322.6 464.4,323.5 466.2,324.3 468.0,325.1 469.8,325.9 471.6,326.6 473.3,327.4 475.1,328.1 476.9,328.8 478.7,329.5 480.5,330.1 482.3,330.8 484.1,331.4 485.9,332.0 487.7,332.6 489.4,333.1 491.2,333.7 493.0,334.2 494.8,334.7 496.6,335.2 498.4,335.6 500.2,336.1 502.0,336.5 503.8,336.9 505.5,337.3 507.3,337.6 509.1,338.0 510.9,338.3 512.7,338.6 514.5,338.9 516.3,339.2 518.1,339.4 519.9,339.7 521.7,339.9 523.4,340.1 525.2,340.3 527.0,340.4 528.8,340.6 530.6,340.7 532.4,340.9 534.2,341.0 536.0,341.0 537.8,341.1 539.5,341.2 541.3,341.2 543.1,341.3 544.9,341.3 546.7,341.3 548.5,341.2 550.3,341.2 552.1,341.2 553.9,341.1 555.6,341.0 557.4,341.0 559.2,340.9 561.0,340.8 562.8,340.6 564.6,340.5 566.4,340.4 568.2,340.2 570.0,340.0 571.7,339.8 573.5,339.7 575.3,339.5 577.1,339.2 578.9,339.0 580.7,338.8 582.5,338.5 584.3,338.3 586.1,338.0 587.8,337.7 589.6,337.5 591.4,337.2 593.2,336.9 595.0,336.6 596.8,336.2 598.6,335.9 600.4,335.6 602.2,335.2 603.9,334.9 605.7,334.5 607.5,334.2 609.3,333.8 611.1,333.4 612.9,333.0 614.7,332.7 616.5,332.3 618.3,331.9 620.0,331.5 621.8,331.1 623.6,330.6 625.4,330.2 627.2,329.8 629.0,329.4 630.8,328.9 632.6,328.5 634.4,328.1 636.2,327.6 637.9,327.2 639.7,326.7 641.5,326.2 643.3,325.8 645.1,325.3 646.9,324.9 648.7,324.4 650.5,323.9 652.3,323.5 654.0,323.0 655.8,322.5 657.6,322.0 659.4,321.6 661.2,321.1 663.0,320.6 664.8,320.1 666.6,319.6 668.4,319.2 670.1,318.7 671.9,318.2 673.7,317.7 675.5,317.2 677.3,316.7 679.1,316.3 680.9,315.8 682.7,315.3 684.5,314.8 686.2,314.3 688.0,313.8 689.8,313.4 691.6,312.9 693.4,312.4 695.2,311.9 697.0,311.4 698.8,311.0 700.6,310.5 702.3,310.0 704.1,309.6 705.9,309.1 707.7,308.6 709.5,308.2 711.3,307.7 713.1,307.2 714.9,306.8 716.7,306.3 718.4,305.9 720.2,305.4 722.0,305.0 723.8,304.5 725.6,304.1 727.4,303.6 729.2,303.2" fill="none" stroke="#78f4f4" stroke-width="2.3"/>
<polyline points="158.5,72.0 160.3,72.4 162.1,72.9 163.8,73.3 165.6,73.8 167.4,74.4 169.2,74.9 171.0,75.5 172.8,76.1 174.6,76.7 176.4,77.4 178.2,78.0 179.9,78.8 181.7,79.5 183.5,80.3 185.3,81.0 187.1,81.9 188.9,82.7 190.7,83.6 192.5,84.5 194.3,85.4 196.0,86.3 197.8,87.3 199.6,88.3 201.4,89.4 203.2,90.4 205.0,91.5 206.8,92.6 208.6,93.8 210.4,94.9 212.1,96.1 213.9,97.4 215.7,98.6 217.5,99.9 219.3,101.2 221.1,102.5 222.9,103.8 224.7,105.2 226.5,106.6 228.2,108.0 230.0,109.5 231.8,110.9 233.6,112.4 235.4,113.9 237.2,115.4 239.0,117.0 240.8,118.6 242.6,120.2 244.3,121.8 246.1,123.4 247.9,125.1 249.7,126.8 251.5,128.5 253.3,130.2 255.1,131.9 256.9,133.6 258.7,135.4 260.4,137.2 262.2,139.0 264.0,140.8 265.8,142.6 267.6,144.5 269.4,146.3 271.2,148.2 273.0,150.1 274.8,152.0 276.6,153.9 278.3,155.8 280.1,157.7 281.9,159.7 283.7,161.6 285.5,163.6 287.3,165.6 289.1,167.5 290.9,169.5 292.7,171.5 294.4,173.5 296.2,175.5 298.0,177.5 299.8,179.5 301.6,181.6 303.4,183.6 305.2,185.6 307.0,187.6 308.8,189.7 310.5,191.7 312.3,193.7 314.1,195.8 315.9,197.8 317.7,199.8 319.5,201.9 321.3,203.9 323.1,205.9 324.9,208.0 326.6,210.0 328.4,212.0 330.2,214.0 332.0,216.1 333.8,218.1 335.6,220.1 337.4,222.1 339.2,224.1 341.0,226.0 342.7,228.0 344.5,230.0 346.3,232.0 348.1,233.9 349.9,235.9 351.7,237.8 353.5,239.7 355.3,241.6 357.1,243.5 358.8,245.4 360.6,247.3 362.4,249.2 364.2,251.0 366.0,252.9 367.8,254.7 369.6,256.5 371.4,258.3 373.2,260.1 374.9,261.9 376.7,263.7 378.5,265.4 380.3,267.1 382.1,268.8 383.9,270.5 385.7,272.2 387.5,273.9 389.3,275.5 391.1,277.2 392.8,278.8 394.6,280.4 396.4,281.9 398.2,283.5 400.0,285.0 401.8,286.6 403.6,288.1 405.4,289.5 407.2,291.0 408.9,292.4 410.7,293.9 412.5,295.3 414.3,296.7 416.1,298.0 417.9,299.4 419.7,300.7 421.5,302.0 423.3,303.3 425.0,304.5 426.8,305.8 428.6,307.0 430.4,308.2 432.2,309.3 434.0,310.5 435.8,311.6 437.6,312.7 439.4,313.8 441.1,314.9 442.9,315.9 444.7,317.0 446.5,318.0 448.3,318.9 450.1,319.9 451.9,320.8 453.7,321.8 455.5,322.6 457.2,323.5 459.0,324.4 460.8,325.2 462.6,326.0 464.4,326.8 466.2,327.5 468.0,328.3 469.8,329.0 471.6,329.7 473.3,330.4 475.1,331.0 476.9,331.7 478.7,332.3 480.5,332.9 482.3,333.4 484.1,334.0 485.9,334.5 487.7,335.0 489.4,335.5 491.2,336.0 493.0,336.4 494.8,336.9 496.6,337.3 498.4,337.7 500.2,338.0 502.0,338.4 503.8,338.7 505.5,339.0 507.3,339.3 509.1,339.6 510.9,339.9 512.7,340.1 514.5,340.3 516.3,340.5 518.1,340.7 519.9,340.9 521.7,341.1 523.4,341.2 525.2,341.3 527.0,341.4 528.8,341.5 530.6,341.6 532.4,341.6 534.2,341.7 536.0,341.7 537.8,341.7 539.5,341.7 541.3,341.7 543.1,341.6 544.9,341.6 546.7,341.5 548.5,341.4 550.3,341.3 552.1,341.2 553.9,341.1 555.6,341.0 557.4,340.8 559.2,340.7 561.0,340.5 562.8,340.3 564.6,340.1 566.4,339.9 568.2,339.7 570.0,339.5 571.7,339.2 573.5,339.0 575.3,338.7 577.1,338.5 578.9,338.2 580.7,337.9 582.5,337.6 584.3,337.3 586.1,337.0 587.8,336.7 589.6,336.3 591.4,336.0 593.2,335.6 595.0,335.3 596.8,334.9 598.6,334.6 600.4,334.2 602.2,333.8 603.9,333.4 605.7,333.0 607.5,332.6 609.3,332.2 611.1,331.8 612.9,331.4 614.7,330.9 616.5,330.5 618.3,330.1 620.0,329.6 621.8,329.2 623.6,328.7 625.4,328.3 627.2,327.8 629.0,327.4 630.8,326.9 632.6,326.4 634.4,326.0 636.2,325.5 637.9,325.0 639.7,324.6 641.5,324.1 643.3,323.6 645.1,323.1 646.9,322.6 648.7,322.1 650.5,321.7 652.3,321.2 654.0,320.7 655.8,320.2 657.6,319.7 659.4,319.2 661.2,318.7 663.0,318.2 664.8,317.7 666.6,317.2 668.4,316.7 670.1,316.2 671.9,315.8 673.7,315.3 675.5,314.8 677.3,314.3 679.1,313.8 680.9,313.3 682.7,312.8 684.5,312.3 686.2,311.8 688.0,311.4 689.8,310.9 691.6,310.4 693.4,309.9 695.2,309.4 697.0,309.0 698.8,308.5 700.6,308.0 702.3,307.6 704.1,307.1 705.9,306.6 707.7,306.2 709.5,305.7 711.3,305.2 713.1,304.8 714.9,304.3 716.7,303.9 718.4,303.5 720.2,303.0 722.0,302.6 723.8,302.1 725.6,301.7 727.4,301.3 729.2,300.9" fill="none" stroke="#000" stroke-width="2.3"/>
<rect x="899.3" y="64.8" width="10.4" height="10.4" fill="#b0ffaa" stroke="#000" stroke-width="1.1"/>
<path d="M904.5 63.4V68.0M904.5 72.0V76.6" stroke="#000" stroke-width="1.9"/>
<rect x="907.6" y="67.0" width="10.4" height="10.4" fill="#b0ffaa" stroke="#000" stroke-width="1.1"/>
<path d="M912.9 65.6V70.2M912.9 74.2V78.8" stroke="#000" stroke-width="1.9"/>
<rect x="916.0" y="69.9" width="10.4" height="10.4" fill="#b0ffaa" stroke="#000" stroke-width="1.1"/>
<path d="M921.2 68.5V73.1M921.2 77.1V81.7" stroke="#000" stroke-width="1.9"/>
<rect x="924.4" y="70.7" width="10.4" height="10.4" fill="#b0ffaa" stroke="#000" stroke-width="1.1"/>
<path d="M929.6 69.3V73.9M929.6 77.9V82.5" stroke="#000" stroke-width="1.9"/>
<rect x="932.7" y="76.3" width="10.4" height="10.4" fill="#b0ffaa" stroke="#000" stroke-width="1.1"/>
<path d="M937.9 74.9V79.5M937.9 83.5V88.1" stroke="#000" stroke-width="1.9"/>
<rect x="941.1" y="79.5" width="10.4" height="10.4" fill="#b0ffaa" stroke="#000" stroke-width="1.1"/>
<path d="M946.3 78.1V82.7M946.3 86.7V91.3" stroke="#000" stroke-width="1.9"/>
<rect x="949.4" y="82.8" width="10.4" height="10.4" fill="#b0ffaa" stroke="#000" stroke-width="1.1"/>
<path d="M954.6 81.4V86.0M954.6 90.0V94.6" stroke="#000" stroke-width="1.9"/>
<rect x="957.8" y="85.5" width="10.4" height="10.4" fill="#b0ffaa" stroke="#000" stroke-width="1.1"/>
<path d="M963.0 84.1V88.7M963.0 92.7V97.3" stroke="#000" stroke-width="1.9"/>
<rect x="966.1" y="91.6" width="10.4" height="10.4" fill="#b0ffaa" stroke="#000" stroke-width="1.1"/>
<path d="M971.3 90.2V94.8M971.3 98.8V103.4" stroke="#000" stroke-width="1.9"/>
<rect x="976.8" y="89.8" width="10.4" height="10.4" fill="#b0ffaa" stroke="#000" stroke-width="1.1"/>
<path d="M982.0 88.4V93.0M982.0 97.0V101.6" stroke="#000" stroke-width="1.9"/>
<rect x="990.8" y="100.8" width="10.4" height="10.4" fill="#b0ffaa" stroke="#000" stroke-width="1.1"/>
<path d="M996.0 99.4V104.0M996.0 108.0V112.6" stroke="#000" stroke-width="1.9"/>
<rect x="998.8" y="115.8" width="10.4" height="10.4" fill="#b0ffaa" stroke="#000" stroke-width="1.1"/>
<path d="M1004.0 114.4V119.0M1004.0 123.0V127.6" stroke="#000" stroke-width="1.9"/>
<rect x="1006.8" y="126.8" width="10.4" height="10.4" fill="#b0ffaa" stroke="#000" stroke-width="1.1"/>
<path d="M1012.0 125.4V130.0M1012.0 134.0V138.6" stroke="#000" stroke-width="1.9"/>
<rect x="1016.8" y="123.8" width="10.4" height="10.4" fill="#b0ffaa" stroke="#000" stroke-width="1.1"/>
<path d="M1022.0 122.4V127.0M1022.0 131.0V135.6" stroke="#000" stroke-width="1.9"/>
<rect x="1026.8" y="130.8" width="10.4" height="10.4" fill="#b0ffaa" stroke="#000" stroke-width="1.1"/>
<path d="M1032.0 129.4V134.0M1032.0 138.0V142.6" stroke="#000" stroke-width="1.9"/>
<rect x="1034.8" y="136.8" width="10.4" height="10.4" fill="#b0ffaa" stroke="#000" stroke-width="1.1"/>
<path d="M1040.0 135.4V140.0M1040.0 144.0V148.6" stroke="#000" stroke-width="1.9"/>
<rect x="1042.8" y="144.8" width="10.4" height="10.4" fill="#b0ffaa" stroke="#000" stroke-width="1.1"/>
<path d="M1048.0 143.4V148.0M1048.0 152.0V156.6" stroke="#000" stroke-width="1.9"/>
<rect x="1050.8" y="152.8" width="10.4" height="10.4" fill="#b0ffaa" stroke="#000" stroke-width="1.1"/>
<path d="M1056.0 151.4V156.0M1056.0 160.0V164.6" stroke="#000" stroke-width="1.9"/>
<rect x="1058.8" y="169.8" width="10.4" height="10.4" fill="#b0ffaa" stroke="#000" stroke-width="1.1"/>
<path d="M1064.0 168.4V173.0M1064.0 177.0V181.6" stroke="#000" stroke-width="1.9"/>
<rect x="1068.8" y="180.8" width="10.4" height="10.4" fill="#b0ffaa" stroke="#000" stroke-width="1.1"/>
<path d="M1074.0 179.4V184.0M1074.0 188.0V192.6" stroke="#000" stroke-width="1.9"/>
<rect x="1076.7" y="183.6" width="10.4" height="10.4" fill="#b0ffaa" stroke="#000" stroke-width="1.1"/>
<path d="M1081.9 182.2V186.8M1081.9 190.8V195.4" stroke="#000" stroke-width="1.9"/>
<rect x="1083.5" y="201.0" width="10.4" height="10.4" fill="#b0ffaa" stroke="#000" stroke-width="1.1"/>
<path d="M1088.7 199.6V204.2M1088.7 208.2V212.8" stroke="#000" stroke-width="1.9"/>
<rect x="1093.2" y="207.8" width="10.4" height="10.4" fill="#b0ffaa" stroke="#000" stroke-width="1.1"/>
<path d="M1098.4 206.4V211.0M1098.4 215.0V219.6" stroke="#000" stroke-width="1.9"/>
<rect x="1102.9" y="214.6" width="10.4" height="10.4" fill="#b0ffaa" stroke="#000" stroke-width="1.1"/>
<path d="M1108.1 213.2V217.8M1108.1 221.8V226.4" stroke="#000" stroke-width="1.9"/>
<rect x="1110.7" y="226.2" width="10.4" height="10.4" fill="#b0ffaa" stroke="#000" stroke-width="1.1"/>
<path d="M1115.9 224.8V229.4M1115.9 233.4V238.0" stroke="#000" stroke-width="1.9"/>
<rect x="1119.4" y="231.0" width="10.4" height="10.4" fill="#b0ffaa" stroke="#000" stroke-width="1.1"/>
<path d="M1124.6 229.6V234.2M1124.6 238.2V242.8" stroke="#000" stroke-width="1.9"/>
<rect x="1128.1" y="236.9" width="10.4" height="10.4" fill="#b0ffaa" stroke="#000" stroke-width="1.1"/>
<path d="M1133.3 235.5V240.1M1133.3 244.1V248.7" stroke="#000" stroke-width="1.9"/>
<rect x="1136.8" y="251.4" width="10.4" height="10.4" fill="#b0ffaa" stroke="#000" stroke-width="1.1"/>
<path d="M1142.0 250.0V254.6M1142.0 258.6V263.2" stroke="#000" stroke-width="1.9"/>
<rect x="1143.6" y="267.9" width="10.4" height="10.4" fill="#b0ffaa" stroke="#000" stroke-width="1.1"/>
<path d="M1148.8 266.5V271.1M1148.8 275.1V279.7" stroke="#000" stroke-width="1.9"/>
<rect x="1152.3" y="264.0" width="10.4" height="10.4" fill="#b0ffaa" stroke="#000" stroke-width="1.1"/>
<path d="M1157.5 262.6V267.2M1157.5 271.2V275.8" stroke="#000" stroke-width="1.9"/>
<rect x="1161.0" y="272.7" width="10.4" height="10.4" fill="#b0ffaa" stroke="#000" stroke-width="1.1"/>
<path d="M1166.2 271.3V275.9M1166.2 279.9V284.5" stroke="#000" stroke-width="1.9"/>
<rect x="1169.8" y="296.9" width="10.4" height="10.4" fill="#b0ffaa" stroke="#000" stroke-width="1.1"/>
<path d="M1175.0 295.5V300.1M1175.0 304.1V308.7" stroke="#000" stroke-width="1.9"/>
<rect x="1178.5" y="290.1" width="10.4" height="10.4" fill="#b0ffaa" stroke="#000" stroke-width="1.1"/>
<path d="M1183.7 288.7V293.3M1183.7 297.3V301.9" stroke="#000" stroke-width="1.9"/>
<rect x="1187.2" y="301.8" width="10.4" height="10.4" fill="#b0ffaa" stroke="#000" stroke-width="1.1"/>
<path d="M1192.4 300.4V305.0M1192.4 309.0V313.6" stroke="#000" stroke-width="1.9"/>
<rect x="1195.9" y="308.6" width="10.4" height="10.4" fill="#b0ffaa" stroke="#000" stroke-width="1.1"/>
<path d="M1201.1 307.2V311.8M1201.1 315.8V320.4" stroke="#000" stroke-width="1.9"/>
<rect x="1203.7" y="314.4" width="10.4" height="10.4" fill="#b0ffaa" stroke="#000" stroke-width="1.1"/>
<path d="M1208.9 313.0V317.6M1208.9 321.6V326.2" stroke="#000" stroke-width="1.9"/>
<rect x="1212.4" y="316.3" width="10.4" height="10.4" fill="#b0ffaa" stroke="#000" stroke-width="1.1"/>
<path d="M1217.6 314.9V319.5M1217.6 323.5V328.1" stroke="#000" stroke-width="1.9"/>
<rect x="1221.1" y="323.1" width="10.4" height="10.4" fill="#b0ffaa" stroke="#000" stroke-width="1.1"/>
<path d="M1226.3 321.7V326.3M1226.3 330.3V334.9" stroke="#000" stroke-width="1.9"/>
<rect x="1229.8" y="333.8" width="10.4" height="10.4" fill="#b0ffaa" stroke="#000" stroke-width="1.1"/>
<path d="M1235.0 332.3V337.0M1235.0 341.0V345.7" stroke="#000" stroke-width="1.9"/>
<rect x="1237.3" y="346.8" width="10.4" height="10.4" fill="#b0ffaa" stroke="#000" stroke-width="1.1"/>
<path d="M1242.5 345.1V350.0M1242.5 354.0V358.9" stroke="#000" stroke-width="1.9"/>
<rect x="1245.6" y="354.8" width="10.4" height="10.4" fill="#b0ffaa" stroke="#000" stroke-width="1.1"/>
<path d="M1250.8 352.8V358.0M1250.8 362.0V367.2" stroke="#000" stroke-width="1.9"/>
<rect x="1254.8" y="350.6" width="10.4" height="10.4" fill="#b0ffaa" stroke="#000" stroke-width="1.1"/>
<path d="M1260.0 348.2V353.8M1260.0 357.8V363.4" stroke="#000" stroke-width="1.9"/>
<rect x="1262.8" y="366.8" width="10.4" height="10.4" fill="#b0ffaa" stroke="#000" stroke-width="1.1"/>
<path d="M1268.0 364.1V370.0M1268.0 374.0V379.9" stroke="#000" stroke-width="1.9"/>
<rect x="1271.5" y="364.8" width="10.4" height="10.4" fill="#b0ffaa" stroke="#000" stroke-width="1.1"/>
<path d="M1276.7 361.7V365.2M1276.7 374.8V378.3" stroke="#000" stroke-width="1.9"/>
<rect x="1279.8" y="373.1" width="10.4" height="10.4" fill="#b0ffaa" stroke="#000" stroke-width="1.1"/>
<path d="M1285.0 369.7V373.5M1285.0 383.1V386.9" stroke="#000" stroke-width="1.9"/>
<rect x="1288.1" y="374.0" width="10.4" height="10.4" fill="#b0ffaa" stroke="#000" stroke-width="1.1"/>
<path d="M1293.3 370.2V374.4M1293.3 384.0V388.2" stroke="#000" stroke-width="1.9"/>
<rect x="1297.3" y="357.3" width="10.4" height="10.4" fill="#b0ffaa" stroke="#000" stroke-width="1.1"/>
<path d="M1302.5 353.1V357.7M1302.5 367.3V371.9" stroke="#000" stroke-width="1.9"/>
<rect x="1305.6" y="364.8" width="10.4" height="10.4" fill="#b0ffaa" stroke="#000" stroke-width="1.1"/>
<path d="M1310.8 360.2V365.2M1310.8 374.8V379.8" stroke="#000" stroke-width="1.9"/>
<rect x="1314.0" y="364.8" width="10.4" height="10.4" fill="#b0ffaa" stroke="#000" stroke-width="1.1"/>
<path d="M1319.2 359.7V365.2M1319.2 374.8V380.3" stroke="#000" stroke-width="1.9"/>
<rect x="1322.3" y="364.8" width="10.4" height="10.4" fill="#b0ffaa" stroke="#000" stroke-width="1.1"/>
<path d="M1327.5 359.3V365.2M1327.5 374.8V380.7" stroke="#000" stroke-width="1.9"/>
<rect x="1330.6" y="372.3" width="10.4" height="10.4" fill="#b0ffaa" stroke="#000" stroke-width="1.1"/>
<path d="M1335.8 366.3V372.7M1335.8 382.3V388.7" stroke="#000" stroke-width="1.9"/>
<rect x="1339.5" y="369.8" width="10.4" height="10.4" fill="#b0ffaa" stroke="#000" stroke-width="1.1"/>
<path d="M1344.7 363.3V370.2M1344.7 379.8V386.7" stroke="#000" stroke-width="1.9"/>
<rect x="1348.1" y="383.1" width="10.4" height="10.4" fill="#b0ffaa" stroke="#000" stroke-width="1.1"/>
<path d="M1353.3 376.1V383.5M1353.3 393.1V400.5" stroke="#000" stroke-width="1.9"/>
<rect x="1356.5" y="382.3" width="10.4" height="10.4" fill="#b0ffaa" stroke="#000" stroke-width="1.1"/>
<path d="M1361.7 374.7V382.7M1361.7 392.3V400.3" stroke="#000" stroke-width="1.9"/>
<rect x="1364.8" y="394.8" width="10.4" height="10.4" fill="#b0ffaa" stroke="#000" stroke-width="1.1"/>
<path d="M1370.0 386.7V395.2M1370.0 404.8V413.3" stroke="#000" stroke-width="1.9"/>
<rect x="1373.6" y="401.5" width="10.4" height="10.4" fill="#b0ffaa" stroke="#000" stroke-width="1.1"/>
<path d="M1378.8 392.8V401.9M1378.8 411.5V420.6" stroke="#000" stroke-width="1.9"/>
<rect x="1382.3" y="403.1" width="10.4" height="10.4" fill="#b0ffaa" stroke="#000" stroke-width="1.1"/>
<path d="M1387.5 393.7V403.5M1387.5 413.1V422.9" stroke="#000" stroke-width="1.9"/>
<rect x="1390.6" y="364.8" width="10.4" height="10.4" fill="#b0ffaa" stroke="#000" stroke-width="1.1"/>
<path d="M1395.8 354.8V365.2M1395.8 374.8V385.2" stroke="#000" stroke-width="1.9"/>
<rect x="1399.0" y="359.8" width="10.4" height="10.4" fill="#b0ffaa" stroke="#000" stroke-width="1.1"/>
<path d="M1404.2 349.1V360.2M1404.2 369.8V380.9" stroke="#000" stroke-width="1.9"/>
<rect x="1407.3" y="387.3" width="10.4" height="10.4" fill="#b0ffaa" stroke="#000" stroke-width="1.1"/>
<path d="M1412.5 375.9V387.7M1412.5 397.3V409.1" stroke="#000" stroke-width="1.9"/>
<rect x="1415.6" y="375.6" width="10.4" height="10.4" fill="#b0ffaa" stroke="#000" stroke-width="1.1"/>
<path d="M1420.8 363.5V376.0M1420.8 385.6V398.1" stroke="#000" stroke-width="1.9"/>
<rect x="1424.3" y="352.3" width="10.4" height="10.4" fill="#b0ffaa" stroke="#000" stroke-width="1.1"/>
<path d="M1429.5 339.4V352.7M1429.5 362.3V375.6" stroke="#000" stroke-width="1.9"/>
<rect x="1432.8" y="394.0" width="10.4" height="10.4" fill="#b0ffaa" stroke="#000" stroke-width="1.1"/>
<path d="M1438.0 380.3V394.4M1438.0 404.0V418.1" stroke="#000" stroke-width="1.9"/>
<rect x="1441.1" y="329.0" width="10.4" height="10.4" fill="#b0ffaa" stroke="#000" stroke-width="1.1"/>
<path d="M1446.3 314.5V329.4M1446.3 339.0V353.9" stroke="#000" stroke-width="1.9"/>
<rect x="1449.8" y="401.5" width="10.4" height="10.4" fill="#b0ffaa" stroke="#000" stroke-width="1.1"/>
<path d="M1455.0 386.1V401.9M1455.0 411.5V427.3" stroke="#000" stroke-width="1.9"/>
<rect x="1458.1" y="374.0" width="10.4" height="10.4" fill="#b0ffaa" stroke="#000" stroke-width="1.1"/>
<path d="M1463.3 357.7V374.4M1463.3 384.0V400.7" stroke="#000" stroke-width="1.9"/>
<rect x="1466.8" y="334.0" width="10.4" height="10.4" fill="#b0ffaa" stroke="#000" stroke-width="1.1"/>
<path d="M1472.0 316.7V334.4M1472.0 344.0V361.7" stroke="#000" stroke-width="1.9"/>
<path d="M903.0 72.0V74.4" stroke="#008d00" stroke-width="2"/>
<path d="M911.4 69.8V72.3" stroke="#008d00" stroke-width="2"/>
<path d="M919.7 72.1V74.8" stroke="#008d00" stroke-width="2"/>
<path d="M928.1 79.2V82.0" stroke="#008d00" stroke-width="2"/>
<path d="M936.4 80.4V83.2" stroke="#008d00" stroke-width="2"/>
<path d="M944.8 84.9V87.9" stroke="#008d00" stroke-width="2"/>
<path d="M953.1 90.6V93.7" stroke="#008d00" stroke-width="2"/>
<path d="M961.5 92.5V95.8" stroke="#008d00" stroke-width="2"/>
<path d="M970.0 96.3V99.7" stroke="#008d00" stroke-width="2"/>
<path d="M978.0 101.2V104.8" stroke="#008d00" stroke-width="2"/>
<path d="M988.0 99.1V102.9" stroke="#008d00" stroke-width="2"/>
<path d="M996.0 114.1V117.9" stroke="#008d00" stroke-width="2"/>
<path d="M1005.0 114.0V118.0" stroke="#008d00" stroke-width="2"/>
<path d="M1012.0 125.9V130.1" stroke="#008d00" stroke-width="2"/>
<path d="M1021.0 135.8V140.2" stroke="#008d00" stroke-width="2"/>
<path d="M1030.0 139.7V144.3" stroke="#008d00" stroke-width="2"/>
<path d="M1039.0 150.6V155.4" stroke="#008d00" stroke-width="2"/>
<path d="M1047.0 157.5V162.5" stroke="#008d00" stroke-width="2"/>
<path d="M1056.0 160.4V165.6" stroke="#008d00" stroke-width="2"/>
<path d="M1064.0 171.3V176.7" stroke="#008d00" stroke-width="2"/>
<path d="M1072.0 184.2V189.8" stroke="#008d00" stroke-width="2"/>
<path d="M1083.9 195.4V201.4" stroke="#008d00" stroke-width="2"/>
<path d="M1089.7 199.2V205.4" stroke="#008d00" stroke-width="2"/>
<path d="M1098.4 217.5V223.9" stroke="#008d00" stroke-width="2"/>
<path d="M1106.2 223.3V229.9" stroke="#008d00" stroke-width="2"/>
<path d="M1115.9 219.2V226.2" stroke="#008d00" stroke-width="2"/>
<path d="M1123.6 237.5V244.7" stroke="#008d00" stroke-width="2"/>
<path d="M1131.4 251.8V259.4" stroke="#008d00" stroke-width="2"/>
<path d="M1139.1 258.5V266.3" stroke="#008d00" stroke-width="2"/>
<path d="M1148.8 262.2V270.4" stroke="#008d00" stroke-width="2"/>
<path d="M1157.5 270.7V279.3" stroke="#008d00" stroke-width="2"/>
<path d="M1166.2 274.4V283.4" stroke="#008d00" stroke-width="2"/>
<path d="M1174.0 289.7V299.1" stroke="#008d00" stroke-width="2"/>
<path d="M1182.7 283.7V293.5" stroke="#008d00" stroke-width="2"/>
<path d="M1191.4 305.8V316.0" stroke="#008d00" stroke-width="2"/>
<path d="M1199.2 310.4V321.0" stroke="#008d00" stroke-width="2"/>
<path d="M1207.9 318.9V329.9" stroke="#008d00" stroke-width="2"/>
<path d="M1217.6 336.1V347.7" stroke="#008d00" stroke-width="2"/>
<path d="M1226.3 333.9V345.9" stroke="#008d00" stroke-width="2"/>
<path d="M1233.3 341.3V353.7" stroke="#008d00" stroke-width="2"/>
<path d="M1242.5 332.7V345.7" stroke="#008d00" stroke-width="2"/>
<path d="M1250.8 339.0V352.6" stroke="#008d00" stroke-width="2"/>
<path d="M1259.2 358.7V372.9" stroke="#008d00" stroke-width="2"/>
<path d="M1268.0 364.3V379.1" stroke="#008d00" stroke-width="2"/>
<path d="M1276.7 354.8V370.2" stroke="#008d00" stroke-width="2"/>
<path d="M1285.0 359.5V375.5" stroke="#008d00" stroke-width="2"/>
<path d="M1294.2 364.9V381.7" stroke="#008d00" stroke-width="2"/>
<path d="M1301.7 374.6V392.0" stroke="#008d00" stroke-width="2"/>
<path d="M1310.8 373.4V391.6" stroke="#008d00" stroke-width="2"/>
<path d="M1318.3 384.7V403.7" stroke="#008d00" stroke-width="2"/>
<path d="M1327.5 386.8V406.6" stroke="#008d00" stroke-width="2"/>
<path d="M1335.8 360.5V381.1" stroke="#008d00" stroke-width="2"/>
<path d="M1344.7 382.5V404.1" stroke="#008d00" stroke-width="2"/>
<path d="M1353.0 386.3V408.7" stroke="#008d00" stroke-width="2"/>
<path d="M1361.7 401.6V425.0" stroke="#008d00" stroke-width="2"/>
<path d="M1370.0 381.1V405.5" stroke="#008d00" stroke-width="2"/>
<path d="M1378.8 368.9V394.5" stroke="#008d00" stroke-width="2"/>
<path d="M1386.7 395.9V422.5" stroke="#008d00" stroke-width="2"/>
<path d="M1395.8 400.3V428.1" stroke="#008d00" stroke-width="2"/>
<path d="M1403.8 405.6V434.4" stroke="#008d00" stroke-width="2"/>
<path d="M1412.5 390.7V420.9" stroke="#008d00" stroke-width="2"/>
<path d="M1420.8 394.3V425.7" stroke="#008d00" stroke-width="2"/>
<path d="M1429.5 371.1V403.9" stroke="#008d00" stroke-width="2"/>
<path d="M1438.0 357.1V391.3" stroke="#008d00" stroke-width="2"/>
<path d="M1446.3 396.4V432.0" stroke="#008d00" stroke-width="2"/>
<path d="M1455.0 376.4V413.6" stroke="#008d00" stroke-width="2"/>
<path d="M1463.3 343.1V381.9" stroke="#008d00" stroke-width="2"/>
<path d="M1471.7 394.8V435.2" stroke="#008d00" stroke-width="2"/>
<circle cx="903.0" cy="73.2" r="6.1" fill="#008d00"/>
<circle cx="911.4" cy="71.1" r="6.1" fill="#008d00"/>
<circle cx="919.7" cy="73.5" r="6.1" fill="#008d00"/>
<circle cx="928.1" cy="80.6" r="6.1" fill="#008d00"/>
<circle cx="936.4" cy="81.8" r="6.1" fill="#008d00"/>
<circle cx="944.8" cy="86.4" r="6.1" fill="#008d00"/>
<circle cx="953.1" cy="92.2" r="6.1" fill="#008d00"/>
<circle cx="961.5" cy="94.2" r="6.1" fill="#008d00"/>
<circle cx="970.0" cy="98.0" r="6.1" fill="#008d00"/>
<circle cx="978.0" cy="103.0" r="6.1" fill="#008d00"/>
<circle cx="988.0" cy="101.0" r="6.1" fill="#008d00"/>
<circle cx="996.0" cy="116.0" r="6.1" fill="#008d00"/>
<circle cx="1005.0" cy="116.0" r="6.1" fill="#008d00"/>
<circle cx="1012.0" cy="128.0" r="6.1" fill="#008d00"/>
<circle cx="1021.0" cy="138.0" r="6.1" fill="#008d00"/>
<circle cx="1030.0" cy="142.0" r="6.1" fill="#008d00"/>
<circle cx="1039.0" cy="153.0" r="6.1" fill="#008d00"/>
<circle cx="1047.0" cy="160.0" r="6.1" fill="#008d00"/>
<circle cx="1056.0" cy="163.0" r="6.1" fill="#008d00"/>
<circle cx="1064.0" cy="174.0" r="6.1" fill="#008d00"/>
<circle cx="1072.0" cy="187.0" r="6.1" fill="#008d00"/>
<circle cx="1083.9" cy="198.4" r="6.1" fill="#008d00"/>
<circle cx="1089.7" cy="202.3" r="6.1" fill="#008d00"/>
<circle cx="1098.4" cy="220.7" r="6.1" fill="#008d00"/>
<circle cx="1106.2" cy="226.6" r="6.1" fill="#008d00"/>
<circle cx="1115.9" cy="222.7" r="6.1" fill="#008d00"/>
<circle cx="1123.6" cy="241.1" r="6.1" fill="#008d00"/>
<circle cx="1131.4" cy="255.6" r="6.1" fill="#008d00"/>
<circle cx="1139.1" cy="262.4" r="6.1" fill="#008d00"/>
<circle cx="1148.8" cy="266.3" r="6.1" fill="#008d00"/>
<circle cx="1157.5" cy="275.0" r="6.1" fill="#008d00"/>
<circle cx="1166.2" cy="278.9" r="6.1" fill="#008d00"/>
<circle cx="1174.0" cy="294.4" r="6.1" fill="#008d00"/>
<circle cx="1182.7" cy="288.6" r="6.1" fill="#008d00"/>
<circle cx="1191.4" cy="310.9" r="6.1" fill="#008d00"/>
<circle cx="1199.2" cy="315.7" r="6.1" fill="#008d00"/>
<circle cx="1207.9" cy="324.4" r="6.1" fill="#008d00"/>
<circle cx="1217.6" cy="341.9" r="6.1" fill="#008d00"/>
<circle cx="1226.3" cy="339.9" r="6.1" fill="#008d00"/>
<circle cx="1233.3" cy="347.5" r="6.1" fill="#008d00"/>
<circle cx="1242.5" cy="339.2" r="6.1" fill="#008d00"/>
<circle cx="1250.8" cy="345.8" r="6.1" fill="#008d00"/>
<circle cx="1259.2" cy="365.8" r="6.1" fill="#008d00"/>
<circle cx="1268.0" cy="371.7" r="6.1" fill="#008d00"/>
<circle cx="1276.7" cy="362.5" r="6.1" fill="#008d00"/>
<circle cx="1285.0" cy="367.5" r="6.1" fill="#008d00"/>
<circle cx="1294.2" cy="373.3" r="6.1" fill="#008d00"/>
<circle cx="1301.7" cy="383.3" r="6.1" fill="#008d00"/>
<circle cx="1310.8" cy="382.5" r="6.1" fill="#008d00"/>
<circle cx="1318.3" cy="394.2" r="6.1" fill="#008d00"/>
<circle cx="1327.5" cy="396.7" r="6.1" fill="#008d00"/>
<circle cx="1335.8" cy="370.8" r="6.1" fill="#008d00"/>
<circle cx="1344.7" cy="393.3" r="6.1" fill="#008d00"/>
<circle cx="1353.0" cy="397.5" r="6.1" fill="#008d00"/>
<circle cx="1361.7" cy="413.3" r="6.1" fill="#008d00"/>
<circle cx="1370.0" cy="393.3" r="6.1" fill="#008d00"/>
<circle cx="1378.8" cy="381.7" r="6.1" fill="#008d00"/>
<circle cx="1386.7" cy="409.2" r="6.1" fill="#008d00"/>
<circle cx="1395.8" cy="414.2" r="6.1" fill="#008d00"/>
<circle cx="1403.8" cy="420.0" r="6.1" fill="#008d00"/>
<circle cx="1412.5" cy="405.8" r="6.1" fill="#008d00"/>
<circle cx="1420.8" cy="410.0" r="6.1" fill="#008d00"/>
<circle cx="1429.5" cy="387.5" r="6.1" fill="#008d00"/>
<circle cx="1438.0" cy="374.2" r="6.1" fill="#008d00"/>
<circle cx="1446.3" cy="414.2" r="6.1" fill="#008d00"/>
<circle cx="1455.0" cy="395.0" r="6.1" fill="#008d00"/>
<circle cx="1463.3" cy="362.5" r="6.1" fill="#008d00"/>
<circle cx="1471.7" cy="415.0" r="6.1" fill="#008d00"/>
<path d="M902.0 66.0V68.0" stroke="#008d00" stroke-width="2"/>
<path d="M910.0 68.9V71.1" stroke="#008d00" stroke-width="2"/>
<path d="M921.0 78.9V81.1" stroke="#008d00" stroke-width="2"/>
<path d="M930.0 70.8V73.2" stroke="#008d00" stroke-width="2"/>
<path d="M938.0 87.7V90.3" stroke="#008d00" stroke-width="2"/>
<path d="M948.0 79.7V82.3" stroke="#008d00" stroke-width="2"/>
<path d="M959.0 79.6V82.4" stroke="#008d00" stroke-width="2"/>
<path d="M966.0 83.5V86.5" stroke="#008d00" stroke-width="2"/>
<path d="M974.0 80.5V83.5" stroke="#008d00" stroke-width="2"/>
<path d="M980.0 77.4V80.6" stroke="#008d00" stroke-width="2"/>
<path d="M988.0 73.3V76.7" stroke="#008d00" stroke-width="2"/>
<path d="M994.0 78.3V81.7" stroke="#008d00" stroke-width="2"/>
<path d="M1001.0 82.2V85.8" stroke="#008d00" stroke-width="2"/>
<path d="M1008.0 91.1V94.9" stroke="#008d00" stroke-width="2"/>
<path d="M1016.0 72.0V76.0" stroke="#008d00" stroke-width="2"/>
<path d="M1023.0 75.0V79.0" stroke="#008d00" stroke-width="2"/>
<path d="M1030.0 73.9V78.1" stroke="#008d00" stroke-width="2"/>
<path d="M1037.0 84.8V89.2" stroke="#008d00" stroke-width="2"/>
<path d="M1044.0 81.7V86.3" stroke="#008d00" stroke-width="2"/>
<path d="M1051.0 82.6V87.4" stroke="#008d00" stroke-width="2"/>
<path d="M1058.0 78.5V83.5" stroke="#008d00" stroke-width="2"/>
<path d="M1065.0 88.4V93.6" stroke="#008d00" stroke-width="2"/>
<path d="M1072.0 78.3V83.7" stroke="#008d00" stroke-width="2"/>
<path d="M1079.0 82.2V87.8" stroke="#008d00" stroke-width="2"/>
<path d="M1087.0 72.1V77.9" stroke="#008d00" stroke-width="2"/>
<path d="M1093.0 60.0V66.0" stroke="#008d00" stroke-width="2"/>
<path d="M1100.0 75.8V82.2" stroke="#008d00" stroke-width="2"/>
<path d="M1107.0 59.7V66.3" stroke="#008d00" stroke-width="2"/>
<path d="M1114.0 79.6V86.4" stroke="#008d00" stroke-width="2"/>
<path d="M1122.0 79.4V86.6" stroke="#008d00" stroke-width="2"/>
<path d="M1129.0 72.2V79.8" stroke="#008d00" stroke-width="2"/>
<path d="M1136.0 67.1V74.9" stroke="#008d00" stroke-width="2"/>
<path d="M1143.0 66.9V75.1" stroke="#008d00" stroke-width="2"/>
<path d="M1150.0 72.8V81.2" stroke="#008d00" stroke-width="2"/>
<path d="M1157.0 62.6V71.4" stroke="#008d00" stroke-width="2"/>
<path d="M1164.0 71.4V80.6" stroke="#008d00" stroke-width="2"/>
<path d="M1172.0 72.2V81.8" stroke="#008d00" stroke-width="2"/>
<path d="M1179.0 73.0V83.0" stroke="#008d00" stroke-width="2"/>
<path d="M1185.0 73.8V84.2" stroke="#008d00" stroke-width="2"/>
<path d="M1192.0 81.6V92.4" stroke="#008d00" stroke-width="2"/>
<path d="M1199.4 66.4V77.6" stroke="#008d00" stroke-width="2"/>
<path d="M1206.0 78.2V89.8" stroke="#008d00" stroke-width="2"/>
<path d="M1213.0 69.9V82.1" stroke="#008d00" stroke-width="2"/>
<path d="M1221.0 64.6V77.4" stroke="#008d00" stroke-width="2"/>
<path d="M1228.0 68.4V81.6" stroke="#008d00" stroke-width="2"/>
<path d="M1235.0 56.1V69.9" stroke="#008d00" stroke-width="2"/>
<path d="M1242.0 57.8V72.2" stroke="#008d00" stroke-width="2"/>
<path d="M1249.0 55.5V70.5" stroke="#008d00" stroke-width="2"/>
<path d="M1256.0 75.2V90.8" stroke="#008d00" stroke-width="2"/>
<path d="M1263.0 57.9V74.1" stroke="#008d00" stroke-width="2"/>
<path d="M1270.0 74.6V91.4" stroke="#008d00" stroke-width="2"/>
<path d="M1277.0 67.2V84.8" stroke="#008d00" stroke-width="2"/>
<path d="M1284.0 65.8V84.2" stroke="#008d00" stroke-width="2"/>
<path d="M1291.0 40.5V59.5" stroke="#008d00" stroke-width="2"/>
<path d="M1298.0 55.1V74.9" stroke="#008d00" stroke-width="2"/>
<path d="M1305.0 61.7V82.3" stroke="#008d00" stroke-width="2"/>
<path d="M1312.6 41.2V62.8" stroke="#008d00" stroke-width="2"/>
<path d="M1319.6 60.8V83.2" stroke="#008d00" stroke-width="2"/>
<path d="M1327.0 80.3V103.7" stroke="#008d00" stroke-width="2"/>
<path d="M1334.0 60.2V84.6" stroke="#008d00" stroke-width="2"/>
<path d="M1341.0 61.3V86.7" stroke="#008d00" stroke-width="2"/>
<path d="M1348.0 65.8V92.2" stroke="#008d00" stroke-width="2"/>
<path d="M1355.0 85.2V112.8" stroke="#008d00" stroke-width="2"/>
<path d="M1362.0 76.7V105.3" stroke="#008d00" stroke-width="2"/>
<path d="M1369.0 78.1V107.9" stroke="#008d00" stroke-width="2"/>
<path d="M1376.0 25.5V56.5" stroke="#008d00" stroke-width="2"/>
<path d="M1383.0 64.8V97.2" stroke="#008d00" stroke-width="2"/>
<path d="M1390.0 68.2V101.8" stroke="#008d00" stroke-width="2"/>
<path d="M1397.6 102.4V137.6" stroke="#008d00" stroke-width="2"/>
<path d="M1404.4 58.7V95.3" stroke="#008d00" stroke-width="2"/>
<path d="M1412.0 47.9V86.1" stroke="#008d00" stroke-width="2"/>
<path d="M1419.0 65.1V104.9" stroke="#008d00" stroke-width="2"/>
<path d="M1426.0 39.3V80.7" stroke="#008d00" stroke-width="2"/>
<path d="M1433.0 63.4V106.6" stroke="#008d00" stroke-width="2"/>
<path d="M1440.0 34.6V79.4" stroke="#008d00" stroke-width="2"/>
<path d="M1447.0 67.6V114.4" stroke="#008d00" stroke-width="2"/>
<path d="M1454.0 52.7V101.3" stroke="#008d00" stroke-width="2"/>
<path d="M1461.0 36.7V87.3" stroke="#008d00" stroke-width="2"/>
<path d="M1468.0 52.6V105.4" stroke="#008d00" stroke-width="2"/>
<path d="M1475.0 -3.0V47.0" stroke="#008d00" stroke-width="2"/>
<path d="M902.0 61.2L908.5 72.8L895.5 72.8Z" fill="#008d00"/>
<path d="M910.0 64.2L916.5 75.8L903.5 75.8Z" fill="#008d00"/>
<path d="M921.0 74.2L927.5 85.8L914.5 85.8Z" fill="#008d00"/>
<path d="M930.0 66.2L936.5 77.8L923.5 77.8Z" fill="#008d00"/>
<path d="M938.0 83.2L944.5 94.8L931.5 94.8Z" fill="#008d00"/>
<path d="M948.0 75.2L954.5 86.8L941.5 86.8Z" fill="#008d00"/>
<path d="M959.0 75.2L965.5 86.8L952.5 86.8Z" fill="#008d00"/>
<path d="M966.0 79.2L972.5 90.8L959.5 90.8Z" fill="#008d00"/>
<path d="M974.0 76.2L980.5 87.8L967.5 87.8Z" fill="#008d00"/>
<path d="M980.0 73.2L986.5 84.8L973.5 84.8Z" fill="#008d00"/>
<path d="M988.0 69.2L994.5 80.8L981.5 80.8Z" fill="#008d00"/>
<path d="M994.0 74.2L1000.5 85.8L987.5 85.8Z" fill="#008d00"/>
<path d="M1001.0 78.2L1007.5 89.8L994.5 89.8Z" fill="#008d00"/>
<path d="M1008.0 87.2L1014.5 98.8L1001.5 98.8Z" fill="#008d00"/>
<path d="M1016.0 68.2L1022.5 79.8L1009.5 79.8Z" fill="#008d00"/>
<path d="M1023.0 71.2L1029.5 82.8L1016.5 82.8Z" fill="#008d00"/>
<path d="M1030.0 70.2L1036.5 81.8L1023.5 81.8Z" fill="#008d00"/>
<path d="M1037.0 81.2L1043.5 92.8L1030.5 92.8Z" fill="#008d00"/>
<path d="M1044.0 78.2L1050.5 89.8L1037.5 89.8Z" fill="#008d00"/>
<path d="M1051.0 79.2L1057.5 90.8L1044.5 90.8Z" fill="#008d00"/>
<path d="M1058.0 75.2L1064.5 86.8L1051.5 86.8Z" fill="#008d00"/>
<path d="M1065.0 85.2L1071.5 96.8L1058.5 96.8Z" fill="#008d00"/>
<path d="M1072.0 75.2L1078.5 86.8L1065.5 86.8Z" fill="#008d00"/>
<path d="M1079.0 79.2L1085.5 90.8L1072.5 90.8Z" fill="#008d00"/>
<path d="M1087.0 69.2L1093.5 80.8L1080.5 80.8Z" fill="#008d00"/>
<path d="M1093.0 57.2L1099.5 68.8L1086.5 68.8Z" fill="#008d00"/>
<path d="M1100.0 73.2L1106.5 84.8L1093.5 84.8Z" fill="#008d00"/>
<path d="M1107.0 57.2L1113.5 68.8L1100.5 68.8Z" fill="#008d00"/>
<path d="M1114.0 77.2L1120.5 88.8L1107.5 88.8Z" fill="#008d00"/>
<path d="M1122.0 77.2L1128.5 88.8L1115.5 88.8Z" fill="#008d00"/>
<path d="M1129.0 70.2L1135.5 81.8L1122.5 81.8Z" fill="#008d00"/>
<path d="M1136.0 65.2L1142.5 76.8L1129.5 76.8Z" fill="#008d00"/>
<path d="M1143.0 65.2L1149.5 76.8L1136.5 76.8Z" fill="#008d00"/>
<path d="M1150.0 71.2L1156.5 82.8L1143.5 82.8Z" fill="#008d00"/>
<path d="M1157.0 61.2L1163.5 72.8L1150.5 72.8Z" fill="#008d00"/>
<path d="M1164.0 70.2L1170.5 81.8L1157.5 81.8Z" fill="#008d00"/>
<path d="M1172.0 71.2L1178.5 82.8L1165.5 82.8Z" fill="#008d00"/>
<path d="M1179.0 72.2L1185.5 83.8L1172.5 83.8Z" fill="#008d00"/>
<path d="M1185.0 73.2L1191.5 84.8L1178.5 84.8Z" fill="#008d00"/>
<path d="M1192.0 81.2L1198.5 92.8L1185.5 92.8Z" fill="#008d00"/>
<path d="M1199.4 66.2L1205.9 77.8L1192.9 77.8Z" fill="#008d00"/>
<path d="M1206.0 78.2L1212.5 89.8L1199.5 89.8Z" fill="#008d00"/>
<path d="M1213.0 70.2L1219.5 81.8L1206.5 81.8Z" fill="#008d00"/>
<path d="M1221.0 65.2L1227.5 76.8L1214.5 76.8Z" fill="#008d00"/>
<path d="M1228.0 69.2L1234.5 80.8L1221.5 80.8Z" fill="#008d00"/>
<path d="M1235.0 57.2L1241.5 68.8L1228.5 68.8Z" fill="#008d00"/>
<path d="M1242.0 59.2L1248.5 70.8L1235.5 70.8Z" fill="#008d00"/>
<path d="M1249.0 57.2L1255.5 68.8L1242.5 68.8Z" fill="#008d00"/>
<path d="M1256.0 77.2L1262.5 88.8L1249.5 88.8Z" fill="#008d00"/>
<path d="M1263.0 60.2L1269.5 71.8L1256.5 71.8Z" fill="#008d00"/>
<path d="M1270.0 77.2L1276.5 88.8L1263.5 88.8Z" fill="#008d00"/>
<path d="M1277.0 70.2L1283.5 81.8L1270.5 81.8Z" fill="#008d00"/>
<path d="M1284.0 69.2L1290.5 80.8L1277.5 80.8Z" fill="#008d00"/>
<path d="M1291.0 44.2L1297.5 55.8L1284.5 55.8Z" fill="#008d00"/>
<path d="M1298.0 59.2L1304.5 70.8L1291.5 70.8Z" fill="#008d00"/>
<path d="M1305.0 66.2L1311.5 77.8L1298.5 77.8Z" fill="#008d00"/>
<path d="M1312.6 46.2L1319.1 57.8L1306.1 57.8Z" fill="#008d00"/>
<path d="M1319.6 66.2L1326.1 77.8L1313.1 77.8Z" fill="#008d00"/>
<path d="M1327.0 86.2L1333.5 97.8L1320.5 97.8Z" fill="#008d00"/>
<path d="M1334.0 66.6L1340.5 78.2L1327.5 78.2Z" fill="#008d00"/>
<path d="M1341.0 68.2L1347.5 79.8L1334.5 79.8Z" fill="#008d00"/>
<path d="M1348.0 73.2L1354.5 84.8L1341.5 84.8Z" fill="#008d00"/>
<path d="M1355.0 93.2L1361.5 104.8L1348.5 104.8Z" fill="#008d00"/>
<path d="M1362.0 85.2L1368.5 96.8L1355.5 96.8Z" fill="#008d00"/>
<path d="M1369.0 87.2L1375.5 98.8L1362.5 98.8Z" fill="#008d00"/>
<path d="M1376.0 35.2L1382.5 46.8L1369.5 46.8Z" fill="#008d00"/>
<path d="M1383.0 75.2L1389.5 86.8L1376.5 86.8Z" fill="#008d00"/>
<path d="M1390.0 79.2L1396.5 90.8L1383.5 90.8Z" fill="#008d00"/>
<path d="M1397.6 114.2L1404.1 125.8L1391.1 125.8Z" fill="#008d00"/>
<path d="M1404.4 71.2L1410.9 82.8L1397.9 82.8Z" fill="#008d00"/>
<path d="M1412.0 61.2L1418.5 72.8L1405.5 72.8Z" fill="#008d00"/>
<path d="M1419.0 79.2L1425.5 90.8L1412.5 90.8Z" fill="#008d00"/>
<path d="M1426.0 54.2L1432.5 65.8L1419.5 65.8Z" fill="#008d00"/>
<path d="M1433.0 79.2L1439.5 90.8L1426.5 90.8Z" fill="#008d00"/>
<path d="M1440.0 51.2L1446.5 62.8L1433.5 62.8Z" fill="#008d00"/>
<path d="M1447.0 85.2L1453.5 96.8L1440.5 96.8Z" fill="#008d00"/>
<path d="M1454.0 71.2L1460.5 82.8L1447.5 82.8Z" fill="#008d00"/>
<path d="M1461.0 56.2L1467.5 67.8L1454.5 67.8Z" fill="#008d00"/>
<path d="M1468.0 73.2L1474.5 84.8L1461.5 84.8Z" fill="#008d00"/>
<path d="M1475.0 16.2L1481.5 27.8L1468.5 27.8Z" fill="#008d00"/>
<polyline points="899.9,71.6 901.7,71.7 903.6,71.9 905.4,72.2 907.2,72.4 909.0,72.7 910.8,73.0 912.6,73.3 914.4,73.6 916.3,74.0 918.1,74.3 919.9,74.7 921.7,75.2 923.5,75.6 925.3,76.1 927.1,76.6 928.9,77.1 930.8,77.6 932.6,78.2 934.4,78.8 936.2,79.4 938.0,80.0 939.8,80.7 941.6,81.4 943.5,82.1 945.3,82.8 947.1,83.6 948.9,84.3 950.7,85.1 952.5,85.9 954.3,86.8 956.2,87.7 958.0,88.5 959.8,89.5 961.6,90.4 963.4,91.4 965.2,92.3 967.0,93.3 968.9,94.4 970.7,95.4 972.5,96.5 974.3,97.6 976.1,98.7 977.9,99.8 979.7,101.0 981.6,102.1 983.4,103.3 985.2,104.5 987.0,105.8 988.8,107.0 990.6,108.3 992.4,109.6 994.3,110.9 996.1,112.3 997.9,113.6 999.7,115.0 1001.5,116.4 1003.3,117.8 1005.1,119.2 1007.0,120.6 1008.8,122.1 1010.6,123.6 1012.4,125.1 1014.2,126.6 1016.0,128.1 1017.8,129.7 1019.7,131.2 1021.5,132.8 1023.3,134.4 1025.1,136.0 1026.9,137.6 1028.7,139.3 1030.5,140.9 1032.3,142.6 1034.2,144.3 1036.0,146.0 1037.8,147.7 1039.6,149.4 1041.4,151.1 1043.2,152.9 1045.0,154.6 1046.9,156.4 1048.7,158.2 1050.5,159.9 1052.3,161.7 1054.1,163.6 1055.9,165.4 1057.7,167.2 1059.6,169.0 1061.4,170.9 1063.2,172.7 1065.0,174.6 1066.8,176.5 1068.6,178.4 1070.4,180.2 1072.3,182.1 1074.1,184.0 1075.9,185.9 1077.7,187.9 1079.5,189.8 1081.3,191.7 1083.1,193.6 1085.0,195.6 1086.8,197.5 1088.6,199.4 1090.4,201.4 1092.2,203.3 1094.0,205.3 1095.8,207.2 1097.7,209.2 1099.5,211.1 1101.3,213.1 1103.1,215.1 1104.9,217.0 1106.7,219.0 1108.5,220.9 1110.4,222.9 1112.2,224.9 1114.0,226.8 1115.8,228.8 1117.6,230.8 1119.4,232.7 1121.2,234.7 1123.1,236.6 1124.9,238.6 1126.7,240.5 1128.5,242.5 1130.3,244.4 1132.1,246.4 1133.9,248.3 1135.7,250.2 1137.6,252.2 1139.4,254.1 1141.2,256.0 1143.0,257.9 1144.8,259.8 1146.6,261.7 1148.4,263.6 1150.3,265.5 1152.1,267.4 1153.9,269.3 1155.7,271.1 1157.5,273.0 1159.3,274.8 1161.1,276.7 1163.0,278.5 1164.8,280.3 1166.6,282.2 1168.4,284.0 1170.2,285.8 1172.0,287.6 1173.8,289.3 1175.7,291.1 1177.5,292.9 1179.3,294.6 1181.1,296.4 1182.9,298.1 1184.7,299.8 1186.5,301.5 1188.4,303.2 1190.2,304.9 1192.0,306.6 1193.8,308.2 1195.6,309.9 1197.4,311.5 1199.2,313.1 1201.1,314.8 1202.9,316.4 1204.7,317.9 1206.5,319.5 1208.3,321.1 1210.1,322.6 1211.9,324.1 1213.8,325.7 1215.6,327.2 1217.4,328.7 1219.2,330.1 1221.0,331.6 1222.8,333.0 1224.6,334.5 1226.4,335.9 1228.3,337.3 1230.1,338.7 1231.9,340.0 1233.7,341.4 1235.5,342.7 1237.3,344.1 1239.1,345.4 1241.0,346.7 1242.8,348.0 1244.6,349.2 1246.4,350.5 1248.2,351.7 1250.0,352.9 1251.8,354.1 1253.7,355.3 1255.5,356.5 1257.3,357.6 1259.1,358.8 1260.9,359.9 1262.7,361.0 1264.5,362.1 1266.4,363.1 1268.2,364.2 1270.0,365.2 1271.8,366.2 1273.6,367.2 1275.4,368.2 1277.2,369.2 1279.1,370.2 1280.9,371.1 1282.7,372.0 1284.5,372.9 1286.3,373.8 1288.1,374.7 1289.9,375.5 1291.8,376.4 1293.6,377.2 1295.4,378.0 1297.2,378.8 1299.0,379.5 1300.8,380.3 1302.6,381.0 1304.5,381.8 1306.3,382.5 1308.1,383.1 1309.9,383.8 1311.7,384.5 1313.5,385.1 1315.3,385.7 1317.2,386.3 1319.0,386.9 1320.8,387.5 1322.6,388.1 1324.4,388.6 1326.2,389.1 1328.0,389.6 1329.8,390.1 1331.7,390.6 1333.5,391.1 1335.3,391.5 1337.1,392.0 1338.9,392.4 1340.7,392.8 1342.5,393.2 1344.4,393.6 1346.2,393.9 1348.0,394.3 1349.8,394.6 1351.6,394.9 1353.4,395.2 1355.2,395.5 1357.1,395.7 1358.9,396.0 1360.7,396.2 1362.5,396.5 1364.3,396.7 1366.1,396.9 1367.9,397.1 1369.8,397.2 1371.6,397.4 1373.4,397.5 1375.2,397.7 1377.0,397.8 1378.8,397.9 1380.6,398.0 1382.5,398.1 1384.3,398.2 1386.1,398.2 1387.9,398.3 1389.7,398.3 1391.5,398.3 1393.3,398.3 1395.2,398.3 1397.0,398.3 1398.8,398.3 1400.6,398.2 1402.4,398.2 1404.2,398.1 1406.0,398.0 1407.9,398.0 1409.7,397.9 1411.5,397.8 1413.3,397.6 1415.1,397.5 1416.9,397.4 1418.7,397.2 1420.6,397.1 1422.4,396.9 1424.2,396.7 1426.0,396.6 1427.8,396.4 1429.6,396.2 1431.4,395.9 1433.2,395.7 1435.1,395.5 1436.9,395.3 1438.7,395.0 1440.5,394.8 1442.3,394.5 1444.1,394.2 1445.9,394.0 1447.8,393.7 1449.6,393.4 1451.4,393.1 1453.2,392.8 1455.0,392.4 1456.8,392.1 1458.6,391.8 1460.5,391.5 1462.3,391.1 1464.1,390.8 1465.9,390.4 1467.7,390.1 1469.5,389.7 1471.3,389.3 1473.2,388.9 1475.0,388.5 1476.8,388.2 1478.6,387.8" fill="none" stroke="#a8f5a8" stroke-width="2.4"/>
<polyline points="899.9,71.6 901.7,71.7 903.6,71.9 905.4,72.2 907.2,72.4 909.0,72.7 910.8,73.0 912.6,73.3 914.4,73.6 916.3,74.0 918.1,74.4 919.9,74.8 921.7,75.2 923.5,75.7 925.3,76.1 927.1,76.7 928.9,77.2 930.8,77.7 932.6,78.3 934.4,78.9 936.2,79.5 938.0,80.2 939.8,80.9 941.6,81.6 943.5,82.3 945.3,83.0 947.1,83.8 948.9,84.6 950.7,85.4 952.5,86.2 954.3,87.1 956.2,88.0 958.0,88.9 959.8,89.8 961.6,90.8 963.4,91.8 965.2,92.8 967.0,93.8 968.9,94.8 970.7,95.9 972.5,97.0 974.3,98.1 976.1,99.3 977.9,100.4 979.7,101.6 981.6,102.8 983.4,104.0 985.2,105.3 987.0,106.5 988.8,107.8 990.6,109.1 992.4,110.4 994.3,111.8 996.1,113.2 997.9,114.5 999.7,115.9 1001.5,117.4 1003.3,118.8 1005.1,120.3 1007.0,121.7 1008.8,123.2 1010.6,124.7 1012.4,126.3 1014.2,127.8 1016.0,129.4 1017.8,131.0 1019.7,132.6 1021.5,134.2 1023.3,135.8 1025.1,137.4 1026.9,139.1 1028.7,140.8 1030.5,142.4 1032.3,144.1 1034.2,145.9 1036.0,147.6 1037.8,149.3 1039.6,151.1 1041.4,152.8 1043.2,154.6 1045.0,156.4 1046.9,158.2 1048.7,160.0 1050.5,161.8 1052.3,163.7 1054.1,165.5 1055.9,167.4 1057.7,169.2 1059.6,171.1 1061.4,173.0 1063.2,174.9 1065.0,176.8 1066.8,178.7 1068.6,180.6 1070.4,182.5 1072.3,184.4 1074.1,186.4 1075.9,188.3 1077.7,190.2 1079.5,192.2 1081.3,194.1 1083.1,196.1 1085.0,198.1 1086.8,200.0 1088.6,202.0 1090.4,204.0 1092.2,205.9 1094.0,207.9 1095.8,209.9 1097.7,211.9 1099.5,213.9 1101.3,215.9 1103.1,217.9 1104.9,219.8 1106.7,221.8 1108.5,223.8 1110.4,225.8 1112.2,227.8 1114.0,229.8 1115.8,231.8 1117.6,233.7 1119.4,235.7 1121.2,237.7 1123.1,239.7 1124.9,241.6 1126.7,243.6 1128.5,245.6 1130.3,247.5 1132.1,249.5 1133.9,251.5 1135.7,253.4 1137.6,255.3 1139.4,257.3 1141.2,259.2 1143.0,261.1 1144.8,263.1 1146.6,265.0 1148.4,266.9 1150.3,268.8 1152.1,270.7 1153.9,272.6 1155.7,274.4 1157.5,276.3 1159.3,278.2 1161.1,280.0 1163.0,281.9 1164.8,283.7 1166.6,285.5 1168.4,287.3 1170.2,289.1 1172.0,290.9 1173.8,292.7 1175.7,294.5 1177.5,296.3 1179.3,298.0 1181.1,299.8 1182.9,301.5 1184.7,303.2 1186.5,304.9 1188.4,306.6 1190.2,308.3 1192.0,310.0 1193.8,311.6 1195.6,313.3 1197.4,314.9 1199.2,316.5 1201.1,318.1 1202.9,319.7 1204.7,321.3 1206.5,322.8 1208.3,324.4 1210.1,325.9 1211.9,327.4 1213.8,328.9 1215.6,330.4 1217.4,331.9 1219.2,333.4 1221.0,334.8 1222.8,336.3 1224.6,337.7 1226.4,339.1 1228.3,340.5 1230.1,341.8 1231.9,343.2 1233.7,344.5 1235.5,345.8 1237.3,347.1 1239.1,348.4 1241.0,349.7 1242.8,351.0 1244.6,352.2 1246.4,353.4 1248.2,354.6 1250.0,355.8 1251.8,357.0 1253.7,358.2 1255.5,359.3 1257.3,360.4 1259.1,361.5 1260.9,362.6 1262.7,363.7 1264.5,364.8 1266.4,365.8 1268.2,366.8 1270.0,367.8 1271.8,368.8 1273.6,369.8 1275.4,370.7 1277.2,371.7 1279.1,372.6 1280.9,373.5 1282.7,374.4 1284.5,375.3 1286.3,376.1 1288.1,377.0 1289.9,377.8 1291.8,378.6 1293.6,379.4 1295.4,380.1 1297.2,380.9 1299.0,381.6 1300.8,382.3 1302.6,383.0 1304.5,383.7 1306.3,384.4 1308.1,385.0 1309.9,385.7 1311.7,386.3 1313.5,386.9 1315.3,387.5 1317.2,388.0 1319.0,388.6 1320.8,389.1 1322.6,389.6 1324.4,390.1 1326.2,390.6 1328.0,391.1 1329.8,391.5 1331.7,392.0 1333.5,392.4 1335.3,392.8 1337.1,393.2 1338.9,393.6 1340.7,393.9 1342.5,394.3 1344.4,394.6 1346.2,394.9 1348.0,395.2 1349.8,395.5 1351.6,395.8 1353.4,396.0 1355.2,396.3 1357.1,396.5 1358.9,396.7 1360.7,396.9 1362.5,397.1 1364.3,397.3 1366.1,397.4 1367.9,397.6 1369.8,397.7 1371.6,397.8 1373.4,397.9 1375.2,398.0 1377.0,398.1 1378.8,398.2 1380.6,398.2 1382.5,398.3 1384.3,398.3 1386.1,398.3 1387.9,398.3 1389.7,398.3 1391.5,398.3 1393.3,398.2 1395.2,398.2 1397.0,398.1 1398.8,398.1 1400.6,398.0 1402.4,397.9 1404.2,397.8 1406.0,397.7 1407.9,397.6 1409.7,397.4 1411.5,397.3 1413.3,397.1 1415.1,397.0 1416.9,396.8 1418.7,396.6 1420.6,396.4 1422.4,396.2 1424.2,396.0 1426.0,395.8 1427.8,395.6 1429.6,395.3 1431.4,395.1 1433.2,394.8 1435.1,394.6 1436.9,394.3 1438.7,394.0 1440.5,393.7 1442.3,393.4 1444.1,393.1 1445.9,392.8 1447.8,392.5 1449.6,392.2 1451.4,391.8 1453.2,391.5 1455.0,391.1 1456.8,390.8 1458.6,390.4 1460.5,390.1 1462.3,389.7 1464.1,389.3 1465.9,388.9 1467.7,388.5 1469.5,388.1 1471.3,387.7 1473.2,387.3 1475.0,386.9 1476.8,386.5 1478.6,386.1" fill="none" stroke="#000" stroke-width="2.3"/>
<path d="M383.1 531.0999999999999V565M383.1 640V937.0" stroke="#333" stroke-width="1.8" stroke-dasharray="10 10"/>
<polyline points="160.3,644.2 161.5,644.3 162.7,644.4 163.8,644.5 165.0,644.6 166.2,644.7 167.3,644.9 168.5,645.0 169.6,645.2 170.8,645.3 172.0,645.5 173.1,645.7 174.3,645.9 175.5,646.1 176.6,646.3 177.8,646.5 179.0,646.7 180.1,647.0 181.3,647.2 182.5,647.5 183.6,647.7 184.8,648.0 186.0,648.2 187.1,648.5 188.3,648.8 189.5,649.1 190.6,649.4 191.8,649.7 193.0,650.0 194.1,650.3 195.3,650.6 196.5,650.9 197.6,651.2 198.8,651.6 199.9,651.9 201.1,652.3 202.3,652.6 203.4,653.0 204.6,653.3 205.8,653.7 206.9,654.1 208.1,654.5 209.3,654.8 210.4,655.2 211.6,655.6 212.8,656.0 213.9,656.4 215.1,656.9 216.3,657.3 217.4,657.7 218.6,658.1 219.8,658.6 220.9,659.0 222.1,659.4 223.3,659.9 224.4,660.4 225.6,660.8 226.8,661.3 227.9,661.8 229.1,662.2 230.3,662.7 231.4,663.2 232.6,663.7 233.7,664.2 234.9,664.7 236.1,665.2 237.2,665.7 238.4,666.2 239.6,666.8 240.7,667.3 241.9,667.8 243.1,668.4 244.2,668.9 245.4,669.5 246.6,670.0 247.7,670.6 248.9,671.2 250.1,671.7 251.2,672.3 252.4,672.9 253.6,673.5 254.7,674.1 255.9,674.7 257.1,675.3 258.2,675.9 259.4,676.5 260.6,677.1 261.7,677.7 262.9,678.4 264.1,679.0 265.2,679.7 266.4,680.3 267.5,680.9 268.7,681.6 269.9,682.3 271.0,682.9 272.2,683.6 273.4,684.3 274.5,685.0 275.7,685.7 276.9,686.4 278.0,687.1 279.2,687.8 280.4,688.5 281.5,689.2 282.7,689.9 283.9,690.7 285.0,691.4 286.2,692.1 287.4,692.9 288.5,693.6 289.7,694.4 290.9,695.2 292.0,695.9 293.2,696.7 294.4,697.5 295.5,698.3 296.7,699.1 297.9,699.9 299.0,700.7 300.2,701.5 301.3,702.3 302.5,703.2 303.7,704.0 304.8,704.8 306.0,705.7 307.2,706.5 308.3,707.4 309.5,708.3 310.7,709.1 311.8,710.0 313.0,710.9 314.2,711.8 315.3,712.7 316.5,713.6 317.7,714.5 318.8,715.5 320.0,716.4 321.2,717.3 322.3,718.3 323.5,719.2 324.7,720.2 325.8,721.2 327.0,722.2 328.2,723.2 329.3,724.2 330.5,725.2 331.7,726.2 332.8,727.2 334.0,728.2 335.1,729.3 336.3,730.3 337.5,731.4 338.6,732.5 339.8,733.5 341.0,734.6 342.1,735.7 343.3,736.9 344.5,738.0 345.6,739.1 346.8,740.3 348.0,741.4 349.1,742.6 350.3,743.8 351.5,745.0 352.6,746.2 353.8,747.4 355.0,748.6 356.1,749.9 357.3,751.2 358.5,752.4 359.6,753.7 360.8,755.0 362.0,756.4 363.1,757.7 364.3,759.1 365.5,760.5 366.6,761.9 367.8,763.3 368.9,764.8 370.1,766.3 371.3,767.8 372.4,769.3 373.6,770.8 374.8,772.4 375.9,774.1 377.1,775.7 378.3,777.4 379.4,779.2 380.6,781.0 381.8,782.8 382.9,784.7 384.1,786.7 385.3,788.8 386.4,790.9 387.6,793.2 388.8,795.7 389.9,798.4 391.1,801.5 392.3,806.3" fill="none" stroke="#000" stroke-width="2.6"/>
<path d="M392.3 806.3H733.5" stroke="#3c3c3c" stroke-width="2.3"/>
<path d="M157.3 541V612" stroke="#000" stroke-width="2.2"/>
<path d="M164.4 633V672.6" stroke="#000" stroke-width="2.2"/>
<path d="M180.2 611V652.8" stroke="#000" stroke-width="2.2"/>
<path d="M196 648V690" stroke="#000" stroke-width="2.2"/>
<path d="M212.3 646V687" stroke="#000" stroke-width="2.2"/>
<path d="M220.5 652V694" stroke="#000" stroke-width="2.2"/>
<path d="M236.7 672V714" stroke="#000" stroke-width="2.2"/>
<path d="M261 653V695" stroke="#000" stroke-width="2.2"/>
<path d="M284.9 646V687" stroke="#000" stroke-width="2.2"/>
<path d="M308.8 668V709" stroke="#000" stroke-width="2.2"/>
<path d="M333.3 698V739" stroke="#000" stroke-width="2.2"/>
<path d="M357 694V736" stroke="#000" stroke-width="2.2"/>
<path d="M381.1 744V786" stroke="#000" stroke-width="2.2"/>
<path d="M437.5 721.3V775.1" stroke="#000" stroke-width="2.2"/>
<circle cx="157.3" cy="576.7" r="8.0" fill="#4fb9f9" stroke="#000" stroke-width="2.1"/>
<circle cx="164.4" cy="652.8" r="8.0" fill="#4fb9f9" stroke="#000" stroke-width="2.1"/>
<circle cx="180.2" cy="631.9" r="8.0" fill="#4fb9f9" stroke="#000" stroke-width="2.1"/>
<circle cx="196.0" cy="669.0" r="8.0" fill="#4fb9f9" stroke="#000" stroke-width="2.1"/>
<circle cx="212.3" cy="666.7" r="8.0" fill="#4fb9f9" stroke="#000" stroke-width="2.1"/>
<circle cx="220.5" cy="673.0" r="8.0" fill="#4fb9f9" stroke="#000" stroke-width="2.1"/>
<circle cx="236.7" cy="693.0" r="8.0" fill="#4fb9f9" stroke="#000" stroke-width="2.1"/>
<circle cx="261.0" cy="674.2" r="8.0" fill="#4fb9f9" stroke="#000" stroke-width="2.1"/>
<circle cx="284.9" cy="666.7" r="8.0" fill="#4fb9f9" stroke="#000" stroke-width="2.1"/>
<circle cx="308.8" cy="688.8" r="8.0" fill="#4fb9f9" stroke="#000" stroke-width="2.1"/>
<circle cx="333.3" cy="717.9" r="8.0" fill="#4fb9f9" stroke="#000" stroke-width="2.1"/>
<circle cx="357.0" cy="714.0" r="8.0" fill="#4fb9f9" stroke="#000" stroke-width="2.1"/>
<circle cx="381.1" cy="764.8" r="8.0" fill="#4fb9f9" stroke="#000" stroke-width="2.1"/>
<circle cx="437.5" cy="748.6" r="8.0" fill="#4fb9f9" stroke="#000" stroke-width="2.1"/>
<path d="M305.1 623.7V701.6" stroke="#000" stroke-width="2.2"/>
<path d="M273.7 690.5V761.6" stroke="#000" stroke-width="2.2"/>
<path d="M283.7 710V774" stroke="#000" stroke-width="2.2"/>
<path d="M310.5 683V765" stroke="#000" stroke-width="2.2"/>
<path d="M301.6 716.7V781.9" stroke="#000" stroke-width="2.2"/>
<path d="M335.6 720V789" stroke="#000" stroke-width="2.2"/>
<path d="M365.8 721.4V787.7" stroke="#000" stroke-width="2.2"/>
<path d="M389.3 733V865.6" stroke="#000" stroke-width="2.2"/>
<path d="M402.3 774.4V841.1" stroke="#000" stroke-width="2.2"/>
<path d="M452.4 733.7V812.6" stroke="#000" stroke-width="2.2"/>
<path d="M487.8 752.3V818.4" stroke="#000" stroke-width="2.2"/>
<path d="M523.5 758V837" stroke="#000" stroke-width="2.2"/>
<path d="M559.7 827.6V894.1" stroke="#000" stroke-width="2.2"/>
<path d="M621.2 754.4V832.7" stroke="#000" stroke-width="2.2"/>
<path d="M719.1 727.3V822.7" stroke="#000" stroke-width="2.2"/>
<rect x="298.0" y="655.7" width="14.2" height="14.2" fill="#4fb9f9" stroke="#000" stroke-width="2.1"/>
<rect x="266.6" y="718.9" width="14.2" height="14.2" fill="#4fb9f9" stroke="#000" stroke-width="2.1"/>
<rect x="276.6" y="735.2" width="14.2" height="14.2" fill="#4fb9f9" stroke="#000" stroke-width="2.1"/>
<rect x="303.4" y="716.6" width="14.2" height="14.2" fill="#4fb9f9" stroke="#000" stroke-width="2.1"/>
<rect x="294.5" y="741.7" width="14.2" height="14.2" fill="#4fb9f9" stroke="#000" stroke-width="2.1"/>
<rect x="328.5" y="747.3" width="14.2" height="14.2" fill="#4fb9f9" stroke="#000" stroke-width="2.1"/>
<rect x="358.7" y="747.3" width="14.2" height="14.2" fill="#4fb9f9" stroke="#000" stroke-width="2.1"/>
<rect x="382.2" y="792.3" width="14.2" height="14.2" fill="#4fb9f9" stroke="#000" stroke-width="2.1"/>
<rect x="395.2" y="800.7" width="14.2" height="14.2" fill="#4fb9f9" stroke="#000" stroke-width="2.1"/>
<rect x="445.3" y="765.9" width="14.2" height="14.2" fill="#4fb9f9" stroke="#000" stroke-width="2.1"/>
<rect x="480.7" y="778.2" width="14.2" height="14.2" fill="#4fb9f9" stroke="#000" stroke-width="2.1"/>
<rect x="516.4" y="790.4" width="14.2" height="14.2" fill="#4fb9f9" stroke="#000" stroke-width="2.1"/>
<rect x="552.6" y="853.3" width="14.2" height="14.2" fill="#4fb9f9" stroke="#000" stroke-width="2.1"/>
<rect x="614.1" y="786.1" width="14.2" height="14.2" fill="#4fb9f9" stroke="#000" stroke-width="2.1"/>
<rect x="712.0" y="767.6" width="14.2" height="14.2" fill="#4fb9f9" stroke="#000" stroke-width="2.1"/>
<path d="M1191.3 531.0999999999999V572M1191.3 639V937.0" stroke="#333" stroke-width="1.8" stroke-dasharray="10 10"/>
<polyline points="908.0,676.7 909.4,676.7 910.9,676.7 912.3,676.7 913.7,676.7 915.2,676.7 916.6,676.7 918.0,676.7 919.5,676.8 920.9,676.8 922.3,676.8 923.8,676.8 925.2,676.8 926.6,676.8 928.1,676.9 929.5,676.9 930.9,676.9 932.4,677.0 933.8,677.0 935.2,677.0 936.7,677.1 938.1,677.1 939.5,677.2 941.0,677.2 942.4,677.3 943.8,677.3 945.3,677.4 946.7,677.5 948.1,677.5 949.6,677.6 951.0,677.7 952.4,677.8 953.9,677.9 955.3,678.0 956.7,678.1 958.2,678.2 959.6,678.3 961.0,678.4 962.5,678.5 963.9,678.7 965.3,678.8 966.8,679.0 968.2,679.1 969.6,679.2 971.1,679.4 972.5,679.6 973.9,679.7 975.4,679.9 976.8,680.1 978.2,680.3 979.7,680.5 981.1,680.7 982.5,680.9 984.0,681.1 985.4,681.4 986.9,681.6 988.3,681.8 989.7,682.1 991.2,682.3 992.6,682.6 994.0,682.9 995.5,683.2 996.9,683.4 998.3,683.7 999.8,684.0 1001.2,684.4 1002.6,684.7 1004.1,685.0 1005.5,685.4 1006.9,685.7 1008.4,686.1 1009.8,686.4 1011.2,686.8 1012.7,687.2 1014.1,687.6 1015.5,688.0 1017.0,688.4 1018.4,688.8 1019.8,689.3 1021.3,689.7 1022.7,690.2 1024.1,690.6 1025.6,691.1 1027.0,691.6 1028.4,692.1 1029.9,692.6 1031.3,693.1 1032.7,693.6 1034.2,694.2 1035.6,694.7 1037.0,695.3 1038.5,695.8 1039.9,696.4 1041.3,697.0 1042.8,697.6 1044.2,698.2 1045.6,698.9 1047.1,699.5 1048.5,700.2 1049.9,700.8 1051.4,701.5 1052.8,702.2 1054.2,702.9 1055.7,703.6 1057.1,704.3 1058.5,705.1 1060.0,705.8 1061.4,706.6 1062.8,707.4 1064.3,708.2 1065.7,709.0 1067.1,709.8 1068.6,710.6 1070.0,711.4 1071.4,712.3 1072.9,713.2 1074.3,714.1 1075.8,715.0 1077.2,715.9 1078.6,716.8 1080.1,717.7 1081.5,718.7 1082.9,719.7 1084.4,720.6 1085.8,721.6 1087.2,722.6 1088.7,723.7 1090.1,724.7 1091.5,725.8 1093.0,726.8 1094.4,727.9 1095.8,729.0 1097.3,730.1 1098.7,731.3 1100.1,732.4 1101.6,733.6 1103.0,734.8 1104.4,735.9 1105.9,737.2 1107.3,738.4 1108.7,739.6 1110.2,740.9 1111.6,742.1 1113.0,743.4 1114.5,744.7 1115.9,746.1 1117.3,747.4 1118.8,748.8 1120.2,750.1 1121.6,751.5 1123.1,752.9 1124.5,754.3 1125.9,755.8 1127.4,757.2 1128.8,758.7 1130.2,760.2 1131.7,761.7 1133.1,763.2 1134.5,764.8 1136.0,766.3 1137.4,767.9 1138.8,769.5 1140.3,771.1 1141.7,772.8 1143.1,774.4 1144.6,776.1 1146.0,777.8 1147.4,779.5 1148.9,781.2 1150.3,782.9 1151.7,784.7 1153.2,786.5 1154.6,788.3 1156.0,790.1 1157.5,791.9 1158.9,793.8 1160.3,795.7 1161.8,797.5 1163.2,799.5 1164.6,801.4 1166.1,803.3 1167.5,805.3 1169.0,807.3 1170.4,809.3 1171.8,811.3 1173.3,813.4 1174.7,815.4 1176.1,817.5 1177.6,819.6 1179.0,821.8 1180.4,823.9 1181.9,826.1 1183.3,828.2 1184.7,830.4 1186.2,832.7 1187.6,834.9 1189.0,837.2 1190.5,839.4 1191.9,841.7 1193.3,844.0 1475.6,844.0" fill="none" stroke="#000" stroke-width="2.8"/>
<path d="M960.3 658.6V746.6" stroke="#000" stroke-width="2.2"/>
<path d="M976.1 624V715.7" stroke="#000" stroke-width="2.2"/>
<path d="M993.8 691.2V781.8" stroke="#000" stroke-width="2.2"/>
<path d="M1011.9 707.8V797.8" stroke="#000" stroke-width="2.2"/>
<path d="M1029.4 669.2V760.5" stroke="#000" stroke-width="2.2"/>
<path d="M1063.5 605.6V695" stroke="#000" stroke-width="2.2"/>
<path d="M1076.3 650.2V739.8" stroke="#000" stroke-width="2.2"/>
<path d="M1105.8 718.5V807.8" stroke="#000" stroke-width="2.2"/>
<path d="M1127.1 697.6V786" stroke="#000" stroke-width="2.2"/>
<path d="M1149 647.5V736.4" stroke="#000" stroke-width="2.2"/>
<path d="M1169.7 744.5V833" stroke="#000" stroke-width="2.2"/>
<path d="M1191 799.9V886.2" stroke="#000" stroke-width="2.2"/>
<path d="M1233.1 782.4V869.7" stroke="#000" stroke-width="2.2"/>
<path d="M1275.3 797.2V889.5" stroke="#000" stroke-width="2.2"/>
<path d="M1317.5 803.2V890.5" stroke="#000" stroke-width="2.2"/>
<path d="M1402.2 786.4V873.7" stroke="#000" stroke-width="2.2"/>
<path d="M1473.7 760.3V850" stroke="#000" stroke-width="2.2"/>
<circle cx="960.3" cy="702.5" r="8.0" fill="#008d00" stroke="#000" stroke-width="2.1"/>
<circle cx="976.1" cy="669.9" r="8.0" fill="#008d00" stroke="#000" stroke-width="2.1"/>
<circle cx="993.8" cy="736.6" r="8.0" fill="#008d00" stroke="#000" stroke-width="2.1"/>
<circle cx="1011.9" cy="753.0" r="8.0" fill="#008d00" stroke="#000" stroke-width="2.1"/>
<circle cx="1029.4" cy="714.6" r="8.0" fill="#008d00" stroke="#000" stroke-width="2.1"/>
<circle cx="1063.5" cy="650.2" r="8.0" fill="#008d00" stroke="#000" stroke-width="2.1"/>
<circle cx="1076.3" cy="695.4" r="8.0" fill="#008d00" stroke="#000" stroke-width="2.1"/>
<circle cx="1105.8" cy="763.2" r="8.0" fill="#008d00" stroke="#000" stroke-width="2.1"/>
<circle cx="1127.1" cy="741.7" r="8.0" fill="#008d00" stroke="#000" stroke-width="2.1"/>
<circle cx="1149.0" cy="691.8" r="8.0" fill="#008d00" stroke="#000" stroke-width="2.1"/>
<circle cx="1169.7" cy="788.8" r="8.0" fill="#008d00" stroke="#000" stroke-width="2.1"/>
<circle cx="1191.0" cy="843.2" r="8.0" fill="#008d00" stroke="#000" stroke-width="2.1"/>
<circle cx="1233.1" cy="825.6" r="8.0" fill="#008d00" stroke="#000" stroke-width="2.1"/>
<circle cx="1275.3" cy="843.4" r="8.0" fill="#008d00" stroke="#000" stroke-width="2.1"/>
<circle cx="1317.5" cy="847.3" r="8.0" fill="#008d00" stroke="#000" stroke-width="2.1"/>
<circle cx="1402.2" cy="830.2" r="8.0" fill="#008d00" stroke="#000" stroke-width="2.1"/>
<circle cx="1473.7" cy="805.5" r="8.0" fill="#008d00" stroke="#000" stroke-width="2.1"/>
<text x="194.5" y="63.5" font-size="46" text-anchor="start" font-weight="bold">a</text>
<text x="937.0" y="66.3" font-size="46" text-anchor="start" font-weight="bold">b</text>
<text x="190.5" y="582.3" font-size="46" text-anchor="start" font-weight="bold">c</text>
<text x="939.5" y="583.0" font-size="46" text-anchor="start" font-weight="bold">d</text>
<text x="138.3" y="83.6" font-size="36" text-anchor="end">1.0</text>
<text x="138.3" y="253.7" font-size="36" text-anchor="end">0.5</text>
<text x="138.3" y="423.8" font-size="36" text-anchor="end">0.0</text>
<text x="881.2" y="83.6" font-size="36" text-anchor="end">1.0</text>
<text x="881.2" y="253.7" font-size="36" text-anchor="end">0.5</text>
<text x="881.2" y="423.8" font-size="36" text-anchor="end">0.0</text>
<text x="156.3" y="475.8" font-size="36" text-anchor="middle">0</text>
<text x="301.2" y="475.8" font-size="36" text-anchor="middle">2</text>
<text x="446.0" y="475.8" font-size="36" text-anchor="middle">4</text>
<text x="590.9" y="475.8" font-size="36" text-anchor="middle">6</text>
<text x="735.7" y="475.8" font-size="36" text-anchor="middle">8</text>
<text x="899.2" y="475.8" font-size="36" text-anchor="middle">0</text>
<text x="1044.0" y="475.8" font-size="36" text-anchor="middle">2</text>
<text x="1188.9" y="475.8" font-size="36" text-anchor="middle">4</text>
<text x="1333.8" y="475.8" font-size="36" text-anchor="middle">6</text>
<text x="1478.6" y="475.8" font-size="36" text-anchor="middle">8</text>
<text x="392.0" y="508.6" font-size="44"><tspan font-style="italic">t</tspan> (µs)</text>
<text x="1149.5" y="511.2" font-size="44"><tspan font-style="italic">t</tspan> (µs)</text>
<text transform="translate(59.2,224.7) rotate(-90)" font-size="43.5" text-anchor="middle">Polarization</text>
<circle cx="202.9" cy="304.6" r="6.1" fill="#066aad"/>
<rect x="198.1" y="342.7" width="10.2" height="10.2" fill="#80ffff" stroke="#000" stroke-width="1.1"/>
<path d="M203.0 383.4L209.5 395.0L196.5 395.0Z" fill="#066aad"/>
<text x="242.5" y="316.5" font-size="36" text-anchor="start">0.02 K</text>
<text x="242.5" y="360.2" font-size="36" text-anchor="start">3.0 K</text>
<text x="242.5" y="403.4" font-size="36" text-anchor="start">0.02 K LF-15mT</text>
<path d="M473.1 167.7H545.6" stroke="#000" stroke-width="1.8"/>
<path d="M473.1 206.9H545.6" stroke="#78f4f4" stroke-width="1.8"/>
<text x="553.7" y="178.8" font-size="32" text-anchor="start">0.02 K-fit</text>
<text x="554.2" y="218.2" font-size="32" text-anchor="start">3.0 K-fit</text>
<circle cx="947.0" cy="306.0" r="6.1" fill="#008d00"/>
<rect x="942.3" y="344.0" width="10.4" height="10.4" fill="#b0ffaa" stroke="#000" stroke-width="1.1"/>
<path d="M947.4 384.7L953.9 396.3L940.9 396.3Z" fill="#008d00"/>
<text x="986.0" y="318.8" font-size="36" text-anchor="start">1.5 K</text>
<text x="986.0" y="362.2" font-size="36" text-anchor="start">9.7 K</text>
<text x="986.0" y="404.8" font-size="36" text-anchor="start">1.5 K LF-5mT</text>
<path d="M1234.7 170.5H1307.7" stroke="#000" stroke-width="1.8"/>
<path d="M1234.7 210H1307.7" stroke="#a8f5a8" stroke-width="1.8"/>
<text x="1316.5" y="181.8" font-size="32" text-anchor="start">1.5 K-fit</text>
<text x="1315.8" y="221.2" font-size="32" text-anchor="start">9.7 K-fit</text>
<text x="138.3" y="540.9" font-size="36" text-anchor="end">0.330</text>
<text x="138.3" y="643.1" font-size="36" text-anchor="end">0.325</text>
<text x="138.3" y="745.2" font-size="36" text-anchor="end">0.320</text>
<text x="138.3" y="847.4" font-size="36" text-anchor="end">0.315</text>
<text x="138.3" y="949.5" font-size="36" text-anchor="end">0.310</text>
<text x="156.3" y="984.6" font-size="36" text-anchor="middle">0</text>
<text x="236.8" y="984.6" font-size="36" text-anchor="middle">1</text>
<text x="317.2" y="984.6" font-size="36" text-anchor="middle">2</text>
<text x="397.7" y="984.6" font-size="36" text-anchor="middle">3</text>
<text x="478.1" y="984.6" font-size="36" text-anchor="middle">4</text>
<text x="558.5" y="984.6" font-size="36" text-anchor="middle">5</text>
<text x="639.0" y="984.6" font-size="36" text-anchor="middle">6</text>
<text x="719.5" y="984.6" font-size="36" text-anchor="middle">7</text>
<text x="885.0" y="541.1" font-size="36" text-anchor="end">0.258</text>
<text x="885.0" y="631.9" font-size="36" text-anchor="end">0.256</text>
<text x="885.0" y="722.7" font-size="36" text-anchor="end">0.254</text>
<text x="885.0" y="813.5" font-size="36" text-anchor="end">0.252</text>
<text x="885.0" y="904.3" font-size="36" text-anchor="end">0.250</text>
<text x="902.7" y="984.6" font-size="36" text-anchor="middle">0</text>
<text x="1018.5" y="984.6" font-size="36" text-anchor="middle">3</text>
<text x="1134.3" y="984.6" font-size="36" text-anchor="middle">6</text>
<text x="1250.1" y="984.6" font-size="36" text-anchor="middle">9</text>
<text x="1365.9" y="984.6" font-size="36" text-anchor="middle">12</text>
<text x="1481.7" y="984.6" font-size="36" text-anchor="middle">15</text>
<text x="393.7" y="1022.8" font-size="44"><tspan font-style="italic">T</tspan> (K)</text>
<text x="1149.8" y="1020.6" font-size="44"><tspan font-style="italic">T</tspan> (K)</text>
<text transform="translate(39.3,821) rotate(-90)" font-size="40"><tspan x="0.65" y="0" font-size="41">σ</tspan><tspan x="25.05" y="11.5" font-size="30">ZF</tspan><tspan x="73.3" y="0">(</tspan><tspan x="89.05" y="0">µ</tspan><tspan x="111.9" y="0">s</tspan><tspan x="133.6" y="-17.8" font-size="28">-</tspan><tspan x="142.3" y="-17.8" font-size="28">1</tspan><tspan x="162.2" y="0">)</tspan></text>
<text x="373.5" y="617.3" font-size="44"><tspan font-style="italic">T</tspan><tspan font-size="32" dx="-2.6" dy="12.2">c</tspan></text>
<text x="1178.0" y="616.0" font-size="44"><tspan font-style="italic">T</tspan><tspan font-size="32" dx="-2.6" dy="12.2">c</tspan></text>
<circle cx="562.4" cy="587.9" r="8.1" fill="#4fb9f9" stroke="#000" stroke-width="1.9"/>
<rect x="555.4" y="630.8" width="14.4" height="14.4" fill="#4fb9f9" stroke="#000" stroke-width="1.9"/>
<text x="617.5" y="601.9" font-size="42" text-anchor="start">LTF</text>
<text x="619.0" y="652.3" font-size="42" text-anchor="start" letter-spacing="-1.2">GPS</text>
</svg>
</body></html>
